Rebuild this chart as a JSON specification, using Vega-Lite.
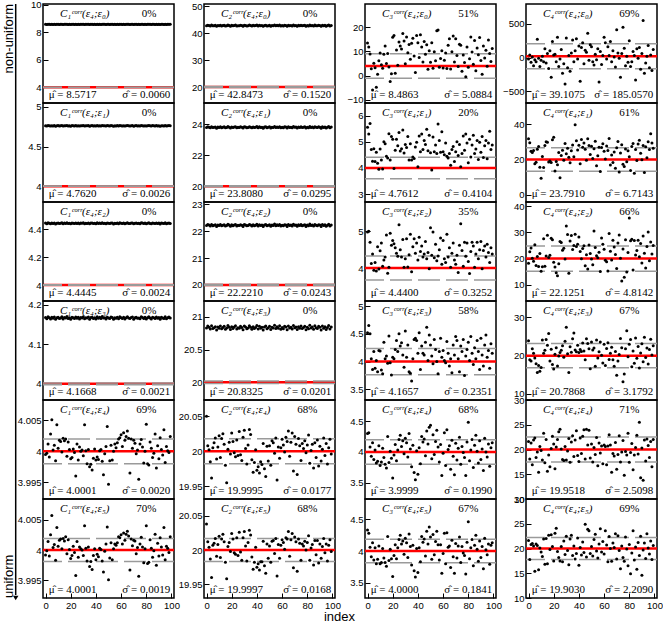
{"$schema":"https://vega.github.io/schema/vega-lite/v6.json","background":"white","padding":{"left":0,"top":-2,"right":0,"bottom":0},
"config":{"view":{"stroke":"black","strokeWidth":1.5},"font":"Liberation Sans","axis":{"grid":false,"domain":false,"labelFont":"Liberation Sans","labelFontSize":9.5,"labelColor":"black","tickColor":"black","tickSize":-5,"tickWidth":1,"labelPadding":7,"labelFlush":false,"labelOverlap":false,"title":null,"format":".6~g"},"axisY":{"tickCount":3},"scale":{"zero":false}},
"bounds":"flush","spacing":23,
"hconcat":[
{"width":20,"height":594,"view":{"stroke":null},"data":{"values":[{}]},"layer":[
{"mark":{"type":"rule","color":"black","strokeWidth":1.5},"encoding":{"x":{"datum":0.785,"type":"quantitative","scale":{"domain":[0,1]},"axis":null},"y":{"datum":1,"type":"quantitative","scale":{"domain":[0,1]},"axis":null},"y2":{"datum":0.005}}},
{"mark":{"type":"point","shape":"triangle-down","filled":true,"color":"black","size":30,"opacity":1},"encoding":{"x":{"datum":0.785,"type":"quantitative"},"y":{"datum":0,"type":"quantitative"}}},
{"mark":{"type":"text","angle":270,"align":"right","baseline":"middle","fontSize":13,"font":"Liberation Sans"},"encoding":{"x":{"datum":0.45,"type":"quantitative"},"y":{"datum":1,"type":"quantitative"},"text":{"value":"non-uniform"}}},
{"mark":{"type":"text","angle":270,"align":"left","baseline":"middle","fontSize":13,"font":"Liberation Sans"},"encoding":{"x":{"datum":0.45,"type":"quantitative"},"y":{"datum":0,"type":"quantitative"},"text":{"value":"uniform"}}}
]},
{"data":{"values":[
{"p":1,"i":0,"v":8.575},{"p":1,"i":1,"v":8.567},{"p":1,"i":2,"v":8.58},{"p":1,"i":3,"v":8.573},{"p":1,"i":4,"v":8.565},{"p":1,"i":5,"v":8.576},{"p":1,"i":6,"v":8.57},{"p":1,"i":7,"v":8.578},{"p":1,"i":8,"v":8.563},{"p":1,"i":9,"v":8.574},
{"p":1,"i":10,"v":8.577},{"p":1,"i":11,"v":8.569},{"p":1,"i":12,"v":8.572},{"p":1,"i":13,"v":8.579},{"p":1,"i":14,"v":8.566},{"p":1,"i":15,"v":8.575},{"p":1,"i":16,"v":8.571},{"p":1,"i":17,"v":8.581},{"p":1,"i":18,"v":8.568},{"p":1,"i":19,"v":8.574},
{"p":1,"i":20,"v":8.564},{"p":1,"i":21,"v":8.577},{"p":1,"i":22,"v":8.573},{"p":1,"i":23,"v":8.569},{"p":1,"i":24,"v":8.578},{"p":1,"i":25,"v":8.57},{"p":1,"i":26,"v":8.576},{"p":1,"i":27,"v":8.565},{"p":1,"i":28,"v":8.575},{"p":1,"i":29,"v":8.572},
{"p":1,"i":30,"v":8.58},{"p":1,"i":31,"v":8.567},{"p":1,"i":32,"v":8.574},{"p":1,"i":33,"v":8.571},{"p":1,"i":34,"v":8.578},{"p":1,"i":35,"v":8.564},{"p":1,"i":36,"v":8.575},{"p":1,"i":37,"v":8.577},{"p":1,"i":38,"v":8.568},{"p":1,"i":39,"v":8.573},
{"p":1,"i":40,"v":8.566},{"p":1,"i":41,"v":8.579},{"p":1,"i":42,"v":8.57},{"p":1,"i":43,"v":8.576},{"p":1,"i":44,"v":8.569},{"p":1,"i":45,"v":8.581},{"p":1,"i":46,"v":8.571},{"p":1,"i":47,"v":8.574},{"p":1,"i":48,"v":8.565},{"p":1,"i":49,"v":8.577},
{"p":1,"i":50,"v":8.572},{"p":1,"i":51,"v":8.568},{"p":1,"i":52,"v":8.578},{"p":1,"i":53,"v":8.575},{"p":1,"i":54,"v":8.563},{"p":1,"i":55,"v":8.574},{"p":1,"i":56,"v":8.57},{"p":1,"i":57,"v":8.577},{"p":1,"i":58,"v":8.567},{"p":1,"i":59,"v":8.58},
{"p":1,"i":60,"v":8.573},{"p":1,"i":61,"v":8.569},{"p":1,"i":62,"v":8.576},{"p":1,"i":63,"v":8.566},{"p":1,"i":64,"v":8.574},{"p":1,"i":65,"v":8.579},{"p":1,"i":66,"v":8.571},{"p":1,"i":67,"v":8.568},{"p":1,"i":68,"v":8.575},{"p":1,"i":69,"v":8.578},
{"p":1,"i":70,"v":8.564},{"p":1,"i":71,"v":8.573},{"p":1,"i":72,"v":8.577},{"p":1,"i":73,"v":8.57},{"p":1,"i":74,"v":8.572},{"p":1,"i":75,"v":8.567},{"p":1,"i":76,"v":8.579},{"p":1,"i":77,"v":8.575},{"p":1,"i":78,"v":8.569},{"p":1,"i":79,"v":8.576},
{"p":1,"i":80,"v":8.565},{"p":1,"i":81,"v":8.574},{"p":1,"i":82,"v":8.58},{"p":1,"i":83,"v":8.571},{"p":1,"i":84,"v":8.566},{"p":1,"i":85,"v":8.577},{"p":1,"i":86,"v":8.573},{"p":1,"i":87,"v":8.568},{"p":1,"i":88,"v":8.578},{"p":1,"i":89,"v":8.57},
{"p":1,"i":90,"v":8.575},{"p":1,"i":91,"v":8.563},{"p":1,"i":92,"v":8.576},{"p":1,"i":93,"v":8.572},{"p":1,"i":94,"v":8.569},{"p":1,"i":95,"v":8.579},{"p":1,"i":96,"v":8.567},{"p":1,"i":97,"v":8.574},{"p":1,"i":98,"v":8.578},{"p":1,"i":99,"v":8.571},
{"p":2,"i":0,"v":42.82},{"p":2,"i":1,"v":43.03},{"p":2,"i":2,"v":42.91},{"p":2,"i":3,"v":42.7},{"p":2,"i":4,"v":43.06},{"p":2,"i":5,"v":42.76},{"p":2,"i":6,"v":42.85},{"p":2,"i":7,"v":42.97},{"p":2,"i":8,"v":42.58},{"p":2,"i":9,"v":42.94},
{"p":2,"i":10,"v":42.79},{"p":2,"i":11,"v":43.03},{"p":2,"i":12,"v":42.73},{"p":2,"i":13,"v":42.88},{"p":2,"i":14,"v":43},{"p":2,"i":15,"v":42.67},{"p":2,"i":16,"v":42.82},{"p":2,"i":17,"v":43.09},{"p":2,"i":18,"v":42.91},{"p":2,"i":19,"v":42.64},
{"p":2,"i":20,"v":42.97},{"p":2,"i":21,"v":42.76},{"p":2,"i":22,"v":42.94},{"p":2,"i":23,"v":43.06},{"p":2,"i":24,"v":42.7},{"p":2,"i":25,"v":42.85},{"p":2,"i":26,"v":42.79},{"p":2,"i":27,"v":43},{"p":2,"i":28,"v":42.88},{"p":2,"i":29,"v":42.61},
{"p":2,"i":30,"v":43.03},{"p":2,"i":31,"v":42.94},{"p":2,"i":32,"v":42.73},{"p":2,"i":33,"v":42.82},{"p":2,"i":34,"v":43.06},{"p":2,"i":35,"v":42.91},{"p":2,"i":36,"v":42.67},{"p":2,"i":37,"v":42.97},{"p":2,"i":38,"v":42.76},{"p":2,"i":39,"v":42.88},
{"p":2,"i":40,"v":43.09},{"p":2,"i":41,"v":42.7},{"p":2,"i":42,"v":43},{"p":2,"i":43,"v":42.79},{"p":2,"i":44,"v":42.91},{"p":2,"i":45,"v":42.58},{"p":2,"i":46,"v":42.94},{"p":2,"i":47,"v":43.03},{"p":2,"i":48,"v":42.73},{"p":2,"i":49,"v":42.85},
{"p":2,"i":50,"v":43},{"p":2,"i":51,"v":42.64},{"p":2,"i":52,"v":42.91},{"p":2,"i":53,"v":42.82},{"p":2,"i":54,"v":43.12},{"p":2,"i":55,"v":42.76},{"p":2,"i":56,"v":42.97},{"p":2,"i":57,"v":42.79},{"p":2,"i":58,"v":43.06},{"p":2,"i":59,"v":42.67},
{"p":2,"i":60,"v":42.88},{"p":2,"i":61,"v":42.73},{"p":2,"i":62,"v":43},{"p":2,"i":63,"v":42.94},{"p":2,"i":64,"v":42.61},{"p":2,"i":65,"v":43.03},{"p":2,"i":66,"v":42.82},{"p":2,"i":67,"v":42.91},{"p":2,"i":68,"v":42.7},{"p":2,"i":69,"v":43.09},
{"p":2,"i":70,"v":42.85},{"p":2,"i":71,"v":42.94},{"p":2,"i":72,"v":42.64},{"p":2,"i":73,"v":42.97},{"p":2,"i":74,"v":42.79},{"p":2,"i":75,"v":43.03},{"p":2,"i":76,"v":42.76},{"p":2,"i":77,"v":42.88},{"p":2,"i":78,"v":43},{"p":2,"i":79,"v":42.61},
{"p":2,"i":80,"v":42.91},{"p":2,"i":81,"v":42.73},{"p":2,"i":82,"v":43.12},{"p":2,"i":83,"v":42.82},{"p":2,"i":84,"v":42.94},{"p":2,"i":85,"v":42.67},{"p":2,"i":86,"v":43.06},{"p":2,"i":87,"v":42.85},{"p":2,"i":88,"v":42.76},{"p":2,"i":89,"v":43},
{"p":2,"i":90,"v":42.91},{"p":2,"i":91,"v":42.58},{"p":2,"i":92,"v":43.03},{"p":2,"i":93,"v":42.79},{"p":2,"i":94,"v":42.97},{"p":2,"i":95,"v":42.64},{"p":2,"i":96,"v":42.88},{"p":2,"i":97,"v":43.09},{"p":2,"i":98,"v":42.7},{"p":2,"i":99,"v":42.94},
{"p":3,"i":0,"v":13.5},{"p":3,"i":1,"v":11.8},{"p":3,"i":2,"v":8.9},{"p":3,"i":3,"v":2.8},{"p":3,"i":4,"v":-5.9},{"p":3,"i":5,"v":5.1},{"p":3,"i":6,"v":3.3},{"p":3,"i":7,"v":-4.8},{"p":3,"i":8,"v":0.6},{"p":3,"i":9,"v":6.2},
{"p":3,"i":10,"v":9.4},{"p":3,"i":11,"v":4.5},{"p":3,"i":12,"v":3.1},{"p":3,"i":13,"v":8.8},{"p":3,"i":14,"v":12.3},{"p":3,"i":15,"v":5},{"p":3,"i":16,"v":9.2},{"p":3,"i":17,"v":3.6},{"p":3,"i":18,"v":-2.4},{"p":3,"i":19,"v":0.8},
{"p":3,"i":20,"v":15.9},{"p":3,"i":21,"v":16.6},{"p":3,"i":22,"v":1},{"p":3,"i":23,"v":10.6},{"p":3,"i":24,"v":4.3},{"p":3,"i":25,"v":13.9},{"p":3,"i":26,"v":12.2},{"p":3,"i":27,"v":11},{"p":3,"i":28,"v":17.4},{"p":3,"i":29,"v":14.3},
{"p":3,"i":30,"v":4.9},{"p":3,"i":31,"v":16},{"p":3,"i":32,"v":9.5},{"p":3,"i":33,"v":12.9},{"p":3,"i":34,"v":6.8},{"p":3,"i":35,"v":13.4},{"p":3,"i":36,"v":15.5},{"p":3,"i":37,"v":8.1},{"p":3,"i":38,"v":1.3},{"p":3,"i":39,"v":16.6},
{"p":3,"i":40,"v":13.6},{"p":3,"i":41,"v":7.5},{"p":3,"i":42,"v":16.9},{"p":3,"i":43,"v":11.8},{"p":3,"i":44,"v":5.6},{"p":3,"i":45,"v":14.1},{"p":3,"i":46,"v":8.8},{"p":3,"i":47,"v":12.8},{"p":3,"i":48,"v":2.6},{"p":3,"i":49,"v":10.3},
{"p":3,"i":50,"v":5.5},{"p":3,"i":51,"v":13.6},{"p":3,"i":52,"v":3.1},{"p":3,"i":53,"v":9.9},{"p":3,"i":54,"v":6.2},{"p":3,"i":55,"v":18.6},{"p":3,"i":56,"v":18.9},{"p":3,"i":57,"v":3.5},{"p":3,"i":58,"v":7.1},{"p":3,"i":59,"v":10.3},
{"p":3,"i":60,"v":3.2},{"p":3,"i":61,"v":6.4},{"p":3,"i":62,"v":9.4},{"p":3,"i":63,"v":3},{"p":3,"i":64,"v":12.6},{"p":3,"i":65,"v":15.2},{"p":3,"i":66,"v":2.7},{"p":3,"i":67,"v":9.9},{"p":3,"i":68,"v":16.4},{"p":3,"i":69,"v":5.6},
{"p":3,"i":70,"v":15.2},{"p":3,"i":71,"v":8.3},{"p":3,"i":72,"v":3.8},{"p":3,"i":73,"v":13},{"p":3,"i":74,"v":12.6},{"p":3,"i":75,"v":1.8},{"p":3,"i":76,"v":8.5},{"p":3,"i":77,"v":5.4},{"p":3,"i":78,"v":-0.5},{"p":3,"i":79,"v":11.8},
{"p":3,"i":80,"v":3.5},{"p":3,"i":81,"v":7},{"p":3,"i":82,"v":16},{"p":3,"i":83,"v":9.8},{"p":3,"i":84,"v":4.7},{"p":3,"i":85,"v":14.5},{"p":3,"i":86,"v":2},{"p":3,"i":87,"v":11.4},{"p":3,"i":88,"v":8.6},{"p":3,"i":89,"v":15.8},
{"p":3,"i":90,"v":6.3},{"p":3,"i":91,"v":0.6},{"p":3,"i":92,"v":12.2},{"p":3,"i":93,"v":7.3},{"p":3,"i":94,"v":10.5},{"p":3,"i":95,"v":3.9},{"p":3,"i":96,"v":14.7},{"p":3,"i":97,"v":9.1},{"p":3,"i":98,"v":5.8},{"p":3,"i":99,"v":11.2},
{"p":4,"i":0,"v":-20},{"p":4,"i":1,"v":40},{"p":4,"i":2,"v":-70},{"p":4,"i":3,"v":10},{"p":4,"i":4,"v":-120},{"p":4,"i":5,"v":-30},{"p":4,"i":6,"v":-60},{"p":4,"i":7,"v":270},{"p":4,"i":8,"v":-10},{"p":4,"i":9,"v":-130},
{"p":4,"i":10,"v":-40},{"p":4,"i":11,"v":20},{"p":4,"i":12,"v":-60},{"p":4,"i":13,"v":130},{"p":4,"i":14,"v":-80},{"p":4,"i":15,"v":60},{"p":4,"i":16,"v":-160},{"p":4,"i":17,"v":100},{"p":4,"i":18,"v":-290},{"p":4,"i":19,"v":240},
{"p":4,"i":20,"v":40},{"p":4,"i":21,"v":50},{"p":4,"i":22,"v":-60},{"p":4,"i":23,"v":300},{"p":4,"i":24,"v":-130},{"p":4,"i":25,"v":-20},{"p":4,"i":26,"v":120},{"p":4,"i":27,"v":-230},{"p":4,"i":28,"v":-90},{"p":4,"i":29,"v":-390},
{"p":4,"i":30,"v":290},{"p":4,"i":31,"v":-150},{"p":4,"i":32,"v":30},{"p":4,"i":33,"v":-200},{"p":4,"i":34,"v":70},{"p":4,"i":35,"v":260},{"p":4,"i":36,"v":-60},{"p":4,"i":37,"v":100},{"p":4,"i":38,"v":280},{"p":4,"i":39,"v":-20},
{"p":4,"i":40,"v":170},{"p":4,"i":41,"v":-350},{"p":4,"i":42,"v":150},{"p":4,"i":43,"v":220},{"p":4,"i":44,"v":-90},{"p":4,"i":45,"v":110},{"p":4,"i":46,"v":80},{"p":4,"i":47,"v":360},{"p":4,"i":48,"v":-40},{"p":4,"i":49,"v":190},
{"p":4,"i":50,"v":160},{"p":4,"i":51,"v":-60},{"p":4,"i":52,"v":-110},{"p":4,"i":53,"v":50},{"p":4,"i":54,"v":-30},{"p":4,"i":55,"v":130},{"p":4,"i":56,"v":-360},{"p":4,"i":57,"v":90},{"p":4,"i":58,"v":-100},{"p":4,"i":59,"v":30},
{"p":4,"i":60,"v":300},{"p":4,"i":61,"v":220},{"p":4,"i":62,"v":-20},{"p":4,"i":63,"v":160},{"p":4,"i":64,"v":30},{"p":4,"i":65,"v":240},{"p":4,"i":66,"v":-60},{"p":4,"i":67,"v":100},{"p":4,"i":68,"v":10},{"p":4,"i":69,"v":-140},
{"p":4,"i":70,"v":410},{"p":4,"i":71,"v":70},{"p":4,"i":72,"v":-10},{"p":4,"i":73,"v":-290},{"p":4,"i":74,"v":60},{"p":4,"i":75,"v":450},{"p":4,"i":76,"v":140},{"p":4,"i":77,"v":-120},{"p":4,"i":78,"v":20},{"p":4,"i":79,"v":-70},
{"p":4,"i":80,"v":250},{"p":4,"i":81,"v":-130},{"p":4,"i":82,"v":-60},{"p":4,"i":83,"v":90},{"p":4,"i":84,"v":30},{"p":4,"i":85,"v":-330},{"p":4,"i":86,"v":130},{"p":4,"i":87,"v":-10},{"p":4,"i":88,"v":150},{"p":4,"i":89,"v":-170},
{"p":4,"i":90,"v":60},{"p":4,"i":91,"v":550},{"p":4,"i":92,"v":-230},{"p":4,"i":93,"v":-80},{"p":4,"i":94,"v":20},{"p":4,"i":95,"v":180},{"p":4,"i":96,"v":-150},{"p":4,"i":97,"v":40},{"p":4,"i":98,"v":-190},{"p":4,"i":99,"v":120},
{"p":5,"i":0,"v":4.7635},{"p":5,"i":1,"v":4.7595},{"p":5,"i":2,"v":4.766},{"p":5,"i":3,"v":4.7625},{"p":5,"i":4,"v":4.7585},{"p":5,"i":5,"v":4.764},{"p":5,"i":6,"v":4.761},{"p":5,"i":7,"v":4.765},{"p":5,"i":8,"v":4.7575},{"p":5,"i":9,"v":4.763},
{"p":5,"i":10,"v":4.7645},{"p":5,"i":11,"v":4.7605},{"p":5,"i":12,"v":4.762},{"p":5,"i":13,"v":4.7655},{"p":5,"i":14,"v":4.759},{"p":5,"i":15,"v":4.7635},{"p":5,"i":16,"v":4.7615},{"p":5,"i":17,"v":4.7665},{"p":5,"i":18,"v":4.76},{"p":5,"i":19,"v":4.763},
{"p":5,"i":20,"v":4.758},{"p":5,"i":21,"v":4.7645},{"p":5,"i":22,"v":4.7625},{"p":5,"i":23,"v":4.7605},{"p":5,"i":24,"v":4.765},{"p":5,"i":25,"v":4.761},{"p":5,"i":26,"v":4.764},{"p":5,"i":27,"v":4.7585},{"p":5,"i":28,"v":4.7635},{"p":5,"i":29,"v":4.762},
{"p":5,"i":30,"v":4.766},{"p":5,"i":31,"v":4.7595},{"p":5,"i":32,"v":4.763},{"p":5,"i":33,"v":4.7615},{"p":5,"i":34,"v":4.765},{"p":5,"i":35,"v":4.758},{"p":5,"i":36,"v":4.7635},{"p":5,"i":37,"v":4.7645},{"p":5,"i":38,"v":4.76},{"p":5,"i":39,"v":4.7625},
{"p":5,"i":40,"v":4.759},{"p":5,"i":41,"v":4.7655},{"p":5,"i":42,"v":4.761},{"p":5,"i":43,"v":4.764},{"p":5,"i":44,"v":4.7605},{"p":5,"i":45,"v":4.7665},{"p":5,"i":46,"v":4.7615},{"p":5,"i":47,"v":4.763},{"p":5,"i":48,"v":4.7585},{"p":5,"i":49,"v":4.7645},
{"p":5,"i":50,"v":4.762},{"p":5,"i":51,"v":4.76},{"p":5,"i":52,"v":4.765},{"p":5,"i":53,"v":4.7635},{"p":5,"i":54,"v":4.7575},{"p":5,"i":55,"v":4.763},{"p":5,"i":56,"v":4.761},{"p":5,"i":57,"v":4.7645},{"p":5,"i":58,"v":4.7595},{"p":5,"i":59,"v":4.766},
{"p":5,"i":60,"v":4.7625},{"p":5,"i":61,"v":4.7605},{"p":5,"i":62,"v":4.764},{"p":5,"i":63,"v":4.759},{"p":5,"i":64,"v":4.763},{"p":5,"i":65,"v":4.7655},{"p":5,"i":66,"v":4.7615},{"p":5,"i":67,"v":4.76},{"p":5,"i":68,"v":4.7635},{"p":5,"i":69,"v":4.765},
{"p":5,"i":70,"v":4.758},{"p":5,"i":71,"v":4.7625},{"p":5,"i":72,"v":4.7645},{"p":5,"i":73,"v":4.761},{"p":5,"i":74,"v":4.762},{"p":5,"i":75,"v":4.7595},{"p":5,"i":76,"v":4.7655},{"p":5,"i":77,"v":4.7635},{"p":5,"i":78,"v":4.7605},{"p":5,"i":79,"v":4.764},
{"p":5,"i":80,"v":4.7585},{"p":5,"i":81,"v":4.763},{"p":5,"i":82,"v":4.766},{"p":5,"i":83,"v":4.7615},{"p":5,"i":84,"v":4.759},{"p":5,"i":85,"v":4.7645},{"p":5,"i":86,"v":4.7625},{"p":5,"i":87,"v":4.76},{"p":5,"i":88,"v":4.765},{"p":5,"i":89,"v":4.761},
{"p":5,"i":90,"v":4.7635},{"p":5,"i":91,"v":4.7575},{"p":5,"i":92,"v":4.764},{"p":5,"i":93,"v":4.762},{"p":5,"i":94,"v":4.7605},{"p":5,"i":95,"v":4.7655},{"p":5,"i":96,"v":4.7595},{"p":5,"i":97,"v":4.763},{"p":5,"i":98,"v":4.765},{"p":5,"i":99,"v":4.7615},
{"p":6,"i":0,"v":23.802},{"p":6,"i":1,"v":23.844},{"p":6,"i":2,"v":23.82},{"p":6,"i":3,"v":23.778},{"p":6,"i":4,"v":23.85},{"p":6,"i":5,"v":23.79},{"p":6,"i":6,"v":23.808},{"p":6,"i":7,"v":23.832},{"p":6,"i":8,"v":23.754},{"p":6,"i":9,"v":23.826},
{"p":6,"i":10,"v":23.796},{"p":6,"i":11,"v":23.844},{"p":6,"i":12,"v":23.784},{"p":6,"i":13,"v":23.814},{"p":6,"i":14,"v":23.838},{"p":6,"i":15,"v":23.772},{"p":6,"i":16,"v":23.802},{"p":6,"i":17,"v":23.856},{"p":6,"i":18,"v":23.82},{"p":6,"i":19,"v":23.766},
{"p":6,"i":20,"v":23.832},{"p":6,"i":21,"v":23.79},{"p":6,"i":22,"v":23.826},{"p":6,"i":23,"v":23.85},{"p":6,"i":24,"v":23.778},{"p":6,"i":25,"v":23.808},{"p":6,"i":26,"v":23.796},{"p":6,"i":27,"v":23.838},{"p":6,"i":28,"v":23.814},{"p":6,"i":29,"v":23.76},
{"p":6,"i":30,"v":23.844},{"p":6,"i":31,"v":23.826},{"p":6,"i":32,"v":23.784},{"p":6,"i":33,"v":23.802},{"p":6,"i":34,"v":23.85},{"p":6,"i":35,"v":23.82},{"p":6,"i":36,"v":23.772},{"p":6,"i":37,"v":23.832},{"p":6,"i":38,"v":23.79},{"p":6,"i":39,"v":23.814},
{"p":6,"i":40,"v":23.856},{"p":6,"i":41,"v":23.778},{"p":6,"i":42,"v":23.838},{"p":6,"i":43,"v":23.796},{"p":6,"i":44,"v":23.82},{"p":6,"i":45,"v":23.754},{"p":6,"i":46,"v":23.826},{"p":6,"i":47,"v":23.844},{"p":6,"i":48,"v":23.784},{"p":6,"i":49,"v":23.808},
{"p":6,"i":50,"v":23.838},{"p":6,"i":51,"v":23.766},{"p":6,"i":52,"v":23.82},{"p":6,"i":53,"v":23.802},{"p":6,"i":54,"v":23.862},{"p":6,"i":55,"v":23.79},{"p":6,"i":56,"v":23.832},{"p":6,"i":57,"v":23.796},{"p":6,"i":58,"v":23.85},{"p":6,"i":59,"v":23.772},
{"p":6,"i":60,"v":23.814},{"p":6,"i":61,"v":23.784},{"p":6,"i":62,"v":23.838},{"p":6,"i":63,"v":23.826},{"p":6,"i":64,"v":23.76},{"p":6,"i":65,"v":23.844},{"p":6,"i":66,"v":23.802},{"p":6,"i":67,"v":23.82},{"p":6,"i":68,"v":23.778},{"p":6,"i":69,"v":23.856},
{"p":6,"i":70,"v":23.808},{"p":6,"i":71,"v":23.826},{"p":6,"i":72,"v":23.766},{"p":6,"i":73,"v":23.832},{"p":6,"i":74,"v":23.796},{"p":6,"i":75,"v":23.844},{"p":6,"i":76,"v":23.79},{"p":6,"i":77,"v":23.814},{"p":6,"i":78,"v":23.838},{"p":6,"i":79,"v":23.76},
{"p":6,"i":80,"v":23.82},{"p":6,"i":81,"v":23.784},{"p":6,"i":82,"v":23.862},{"p":6,"i":83,"v":23.802},{"p":6,"i":84,"v":23.826},{"p":6,"i":85,"v":23.772},{"p":6,"i":86,"v":23.85},{"p":6,"i":87,"v":23.808},{"p":6,"i":88,"v":23.79},{"p":6,"i":89,"v":23.838},
{"p":6,"i":90,"v":23.82},{"p":6,"i":91,"v":23.754},{"p":6,"i":92,"v":23.844},{"p":6,"i":93,"v":23.796},{"p":6,"i":94,"v":23.832},{"p":6,"i":95,"v":23.766},{"p":6,"i":96,"v":23.814},{"p":6,"i":97,"v":23.856},{"p":6,"i":98,"v":23.778},{"p":6,"i":99,"v":23.826},
{"p":7,"i":0,"v":5.55},{"p":7,"i":1,"v":5.3},{"p":7,"i":2,"v":5.7},{"p":7,"i":3,"v":4.7},{"p":7,"i":4,"v":4.26},{"p":7,"i":5,"v":4.73},{"p":7,"i":6,"v":4.25},{"p":7,"i":7,"v":4.6},{"p":7,"i":8,"v":4.18},{"p":7,"i":9,"v":3.95},
{"p":7,"i":10,"v":4.72},{"p":7,"i":11,"v":4.3},{"p":7,"i":12,"v":3.96},{"p":7,"i":13,"v":5},{"p":7,"i":14,"v":4.92},{"p":7,"i":15,"v":4.45},{"p":7,"i":16,"v":4.38},{"p":7,"i":17,"v":5.31},{"p":7,"i":18,"v":4.3},{"p":7,"i":19,"v":5.2},
{"p":7,"i":20,"v":5.1},{"p":7,"i":21,"v":3.98},{"p":7,"i":22,"v":4.68},{"p":7,"i":23,"v":5.1},{"p":7,"i":24,"v":4.85},{"p":7,"i":25,"v":5.35},{"p":7,"i":26,"v":4.65},{"p":7,"i":27,"v":4.73},{"p":7,"i":28,"v":5.45},{"p":7,"i":29,"v":4.57},
{"p":7,"i":30,"v":4.9},{"p":7,"i":31,"v":4.78},{"p":7,"i":32,"v":5.2},{"p":7,"i":33,"v":4.3},{"p":7,"i":34,"v":4.92},{"p":7,"i":35,"v":4.3},{"p":7,"i":36,"v":4.42},{"p":7,"i":37,"v":4.36},{"p":7,"i":38,"v":4.8},{"p":7,"i":39,"v":4.98},
{"p":7,"i":40,"v":4.05},{"p":7,"i":41,"v":5.22},{"p":7,"i":42,"v":4.62},{"p":7,"i":43,"v":5.3},{"p":7,"i":44,"v":4.7},{"p":7,"i":45,"v":5.05},{"p":7,"i":46,"v":4.9},{"p":7,"i":47,"v":5.48},{"p":7,"i":48,"v":4.66},{"p":7,"i":49,"v":5.25},
{"p":7,"i":50,"v":4.58},{"p":7,"i":51,"v":3.92},{"p":7,"i":52,"v":5.18},{"p":7,"i":53,"v":4.62},{"p":7,"i":54,"v":4.88},{"p":7,"i":55,"v":4.55},{"p":7,"i":56,"v":5.68},{"p":7,"i":57,"v":5.05},{"p":7,"i":58,"v":4.6},{"p":7,"i":59,"v":5.38},
{"p":7,"i":60,"v":4.62},{"p":7,"i":61,"v":4.5},{"p":7,"i":62,"v":4.95},{"p":7,"i":63,"v":4.45},{"p":7,"i":64,"v":4.38},{"p":7,"i":65,"v":4.55},{"p":7,"i":66,"v":4.1},{"p":7,"i":67,"v":4.7},{"p":7,"i":68,"v":4.82},{"p":7,"i":69,"v":4.25},
{"p":7,"i":70,"v":4.62},{"p":7,"i":71,"v":5},{"p":7,"i":72,"v":4.48},{"p":7,"i":73,"v":4.9},{"p":7,"i":74,"v":4.05},{"p":7,"i":75,"v":4.55},{"p":7,"i":76,"v":5.22},{"p":7,"i":77,"v":4.68},{"p":7,"i":78,"v":5.3},{"p":7,"i":79,"v":4.95},
{"p":7,"i":80,"v":4.2},{"p":7,"i":81,"v":5.1},{"p":7,"i":82,"v":4.42},{"p":7,"i":83,"v":4.88},{"p":7,"i":84,"v":5.25},{"p":7,"i":85,"v":4.55},{"p":7,"i":86,"v":4.72},{"p":7,"i":87,"v":5.05},{"p":7,"i":88,"v":4.32},{"p":7,"i":89,"v":4.98},
{"p":7,"i":90,"v":4.6},{"p":7,"i":91,"v":5.2},{"p":7,"i":92,"v":4.4},{"p":7,"i":93,"v":4.85},{"p":7,"i":94,"v":5.05},{"p":7,"i":95,"v":4.35},{"p":7,"i":96,"v":4.95},{"p":7,"i":97,"v":5.4},{"p":7,"i":98,"v":4.7},{"p":7,"i":99,"v":4.88},
{"p":8,"i":0,"v":31.8},{"p":8,"i":1,"v":29.5},{"p":8,"i":2,"v":24.6},{"p":8,"i":3,"v":23.9},{"p":8,"i":4,"v":25.1},{"p":8,"i":5,"v":17.6},{"p":8,"i":6,"v":18.4},{"p":8,"i":7,"v":25.8},{"p":8,"i":8,"v":27.3},{"p":8,"i":9,"v":15.6},
{"p":8,"i":10,"v":9.3},{"p":8,"i":11,"v":21.7},{"p":8,"i":12,"v":15.4},{"p":8,"i":13,"v":27.9},{"p":8,"i":14,"v":30.1},{"p":8,"i":15,"v":29.8},{"p":8,"i":16,"v":18.6},{"p":8,"i":17,"v":19.1},{"p":8,"i":18,"v":18.2},{"p":8,"i":19,"v":31.2},
{"p":8,"i":20,"v":32.6},{"p":8,"i":21,"v":13.4},{"p":8,"i":22,"v":18.8},{"p":8,"i":23,"v":17},{"p":8,"i":24,"v":24},{"p":8,"i":25,"v":9.6},{"p":8,"i":26,"v":22.3},{"p":8,"i":27,"v":25.2},{"p":8,"i":28,"v":19.5},{"p":8,"i":29,"v":29},
{"p":8,"i":30,"v":23.3},{"p":8,"i":31,"v":26.4},{"p":8,"i":32,"v":21.2},{"p":8,"i":33,"v":18.1},{"p":8,"i":34,"v":24.9},{"p":8,"i":35,"v":28.2},{"p":8,"i":36,"v":21.5},{"p":8,"i":37,"v":39.8},{"p":8,"i":38,"v":30.7},{"p":8,"i":39,"v":25.4},
{"p":8,"i":40,"v":28.1},{"p":8,"i":41,"v":17.6},{"p":8,"i":42,"v":31.3},{"p":8,"i":43,"v":26.9},{"p":8,"i":44,"v":29.4},{"p":8,"i":45,"v":25.8},{"p":8,"i":46,"v":19.6},{"p":8,"i":47,"v":31.7},{"p":8,"i":48,"v":28},{"p":8,"i":49,"v":22.8},
{"p":8,"i":50,"v":27.5},{"p":8,"i":51,"v":20.6},{"p":8,"i":52,"v":26.1},{"p":8,"i":53,"v":30.3},{"p":8,"i":54,"v":16.4},{"p":8,"i":55,"v":22.1},{"p":8,"i":56,"v":27},{"p":8,"i":57,"v":13.1},{"p":8,"i":58,"v":26.8},{"p":8,"i":59,"v":28.9},
{"p":8,"i":60,"v":24.6},{"p":8,"i":61,"v":20.3},{"p":8,"i":62,"v":27.7},{"p":8,"i":63,"v":25.1},{"p":8,"i":64,"v":31.9},{"p":8,"i":65,"v":16.9},{"p":8,"i":66,"v":22.5},{"p":8,"i":67,"v":18.3},{"p":8,"i":68,"v":24.3},{"p":8,"i":69,"v":15},
{"p":8,"i":70,"v":26.6},{"p":8,"i":71,"v":30.2},{"p":8,"i":72,"v":12.8},{"p":8,"i":73,"v":23.7},{"p":8,"i":74,"v":28.4},{"p":8,"i":75,"v":17.2},{"p":8,"i":76,"v":16},{"p":8,"i":77,"v":26},{"p":8,"i":78,"v":18.7},{"p":8,"i":79,"v":24.9},
{"p":8,"i":80,"v":21.6},{"p":8,"i":81,"v":13.7},{"p":8,"i":82,"v":27.3},{"p":8,"i":83,"v":29.1},{"p":8,"i":84,"v":12.1},{"p":8,"i":85,"v":25.6},{"p":8,"i":86,"v":19.4},{"p":8,"i":87,"v":28.8},{"p":8,"i":88,"v":30.9},{"p":8,"i":89,"v":23.5},
{"p":8,"i":90,"v":19.8},{"p":8,"i":91,"v":28},{"p":8,"i":92,"v":12.6},{"p":8,"i":93,"v":27.2},{"p":8,"i":94,"v":21},{"p":8,"i":95,"v":30},{"p":8,"i":96,"v":25.7},{"p":8,"i":97,"v":34.6},{"p":8,"i":98,"v":29.3},{"p":8,"i":99,"v":26.4},
{"p":9,"i":0,"v":4.446},{"p":9,"i":1,"v":4.442},{"p":9,"i":2,"v":4.4485},{"p":9,"i":3,"v":4.445},{"p":9,"i":4,"v":4.441},{"p":9,"i":5,"v":4.4465},{"p":9,"i":6,"v":4.4435},{"p":9,"i":7,"v":4.4475},{"p":9,"i":8,"v":4.44},{"p":9,"i":9,"v":4.4455},
{"p":9,"i":10,"v":4.447},{"p":9,"i":11,"v":4.443},{"p":9,"i":12,"v":4.4445},{"p":9,"i":13,"v":4.448},{"p":9,"i":14,"v":4.4415},{"p":9,"i":15,"v":4.446},{"p":9,"i":16,"v":4.444},{"p":9,"i":17,"v":4.449},{"p":9,"i":18,"v":4.4425},{"p":9,"i":19,"v":4.4455},
{"p":9,"i":20,"v":4.4405},{"p":9,"i":21,"v":4.447},{"p":9,"i":22,"v":4.445},{"p":9,"i":23,"v":4.443},{"p":9,"i":24,"v":4.4475},{"p":9,"i":25,"v":4.4435},{"p":9,"i":26,"v":4.4465},{"p":9,"i":27,"v":4.441},{"p":9,"i":28,"v":4.446},{"p":9,"i":29,"v":4.4445},
{"p":9,"i":30,"v":4.4485},{"p":9,"i":31,"v":4.442},{"p":9,"i":32,"v":4.4455},{"p":9,"i":33,"v":4.444},{"p":9,"i":34,"v":4.4475},{"p":9,"i":35,"v":4.4405},{"p":9,"i":36,"v":4.446},{"p":9,"i":37,"v":4.447},{"p":9,"i":38,"v":4.4425},{"p":9,"i":39,"v":4.445},
{"p":9,"i":40,"v":4.4415},{"p":9,"i":41,"v":4.448},{"p":9,"i":42,"v":4.4435},{"p":9,"i":43,"v":4.4465},{"p":9,"i":44,"v":4.443},{"p":9,"i":45,"v":4.449},{"p":9,"i":46,"v":4.444},{"p":9,"i":47,"v":4.4455},{"p":9,"i":48,"v":4.441},{"p":9,"i":49,"v":4.447},
{"p":9,"i":50,"v":4.4445},{"p":9,"i":51,"v":4.4425},{"p":9,"i":52,"v":4.4475},{"p":9,"i":53,"v":4.446},{"p":9,"i":54,"v":4.44},{"p":9,"i":55,"v":4.4455},{"p":9,"i":56,"v":4.4435},{"p":9,"i":57,"v":4.447},{"p":9,"i":58,"v":4.442},{"p":9,"i":59,"v":4.4485},
{"p":9,"i":60,"v":4.445},{"p":9,"i":61,"v":4.443},{"p":9,"i":62,"v":4.4465},{"p":9,"i":63,"v":4.4415},{"p":9,"i":64,"v":4.4455},{"p":9,"i":65,"v":4.448},{"p":9,"i":66,"v":4.444},{"p":9,"i":67,"v":4.4425},{"p":9,"i":68,"v":4.446},{"p":9,"i":69,"v":4.4475},
{"p":9,"i":70,"v":4.4405},{"p":9,"i":71,"v":4.445},{"p":9,"i":72,"v":4.447},{"p":9,"i":73,"v":4.4435},{"p":9,"i":74,"v":4.4445},{"p":9,"i":75,"v":4.442},{"p":9,"i":76,"v":4.448},{"p":9,"i":77,"v":4.446},{"p":9,"i":78,"v":4.443},{"p":9,"i":79,"v":4.4465},
{"p":9,"i":80,"v":4.441},{"p":9,"i":81,"v":4.4455},{"p":9,"i":82,"v":4.4485},{"p":9,"i":83,"v":4.444},{"p":9,"i":84,"v":4.4415},{"p":9,"i":85,"v":4.447},{"p":9,"i":86,"v":4.445},{"p":9,"i":87,"v":4.4425},{"p":9,"i":88,"v":4.4475},{"p":9,"i":89,"v":4.4435},
{"p":9,"i":90,"v":4.446},{"p":9,"i":91,"v":4.44},{"p":9,"i":92,"v":4.4465},{"p":9,"i":93,"v":4.4445},{"p":9,"i":94,"v":4.443},{"p":9,"i":95,"v":4.448},{"p":9,"i":96,"v":4.442},{"p":9,"i":97,"v":4.4455},{"p":9,"i":98,"v":4.4475},{"p":9,"i":99,"v":4.444},
{"p":10,"i":0,"v":22.216},{"p":10,"i":1,"v":22.251},{"p":10,"i":2,"v":22.231},{"p":10,"i":3,"v":22.196},{"p":10,"i":4,"v":22.256},{"p":10,"i":5,"v":22.206},{"p":10,"i":6,"v":22.221},{"p":10,"i":7,"v":22.241},{"p":10,"i":8,"v":22.176},{"p":10,"i":9,"v":22.236},
{"p":10,"i":10,"v":22.211},{"p":10,"i":11,"v":22.251},{"p":10,"i":12,"v":22.201},{"p":10,"i":13,"v":22.226},{"p":10,"i":14,"v":22.246},{"p":10,"i":15,"v":22.191},{"p":10,"i":16,"v":22.216},{"p":10,"i":17,"v":22.261},{"p":10,"i":18,"v":22.231},{"p":10,"i":19,"v":22.186},
{"p":10,"i":20,"v":22.241},{"p":10,"i":21,"v":22.206},{"p":10,"i":22,"v":22.236},{"p":10,"i":23,"v":22.256},{"p":10,"i":24,"v":22.196},{"p":10,"i":25,"v":22.221},{"p":10,"i":26,"v":22.211},{"p":10,"i":27,"v":22.246},{"p":10,"i":28,"v":22.226},{"p":10,"i":29,"v":22.181},
{"p":10,"i":30,"v":22.251},{"p":10,"i":31,"v":22.236},{"p":10,"i":32,"v":22.201},{"p":10,"i":33,"v":22.216},{"p":10,"i":34,"v":22.256},{"p":10,"i":35,"v":22.231},{"p":10,"i":36,"v":22.191},{"p":10,"i":37,"v":22.241},{"p":10,"i":38,"v":22.206},{"p":10,"i":39,"v":22.226},
{"p":10,"i":40,"v":22.261},{"p":10,"i":41,"v":22.196},{"p":10,"i":42,"v":22.246},{"p":10,"i":43,"v":22.211},{"p":10,"i":44,"v":22.231},{"p":10,"i":45,"v":22.176},{"p":10,"i":46,"v":22.236},{"p":10,"i":47,"v":22.251},{"p":10,"i":48,"v":22.201},{"p":10,"i":49,"v":22.221},
{"p":10,"i":50,"v":22.246},{"p":10,"i":51,"v":22.186},{"p":10,"i":52,"v":22.231},{"p":10,"i":53,"v":22.216},{"p":10,"i":54,"v":22.266},{"p":10,"i":55,"v":22.206},{"p":10,"i":56,"v":22.241},{"p":10,"i":57,"v":22.211},{"p":10,"i":58,"v":22.256},{"p":10,"i":59,"v":22.191},
{"p":10,"i":60,"v":22.226},{"p":10,"i":61,"v":22.201},{"p":10,"i":62,"v":22.246},{"p":10,"i":63,"v":22.236},{"p":10,"i":64,"v":22.181},{"p":10,"i":65,"v":22.251},{"p":10,"i":66,"v":22.216},{"p":10,"i":67,"v":22.231},{"p":10,"i":68,"v":22.196},{"p":10,"i":69,"v":22.261},
{"p":10,"i":70,"v":22.221},{"p":10,"i":71,"v":22.236},{"p":10,"i":72,"v":22.186},{"p":10,"i":73,"v":22.241},{"p":10,"i":74,"v":22.211},{"p":10,"i":75,"v":22.251},{"p":10,"i":76,"v":22.206},{"p":10,"i":77,"v":22.226},{"p":10,"i":78,"v":22.246},{"p":10,"i":79,"v":22.181},
{"p":10,"i":80,"v":22.231},{"p":10,"i":81,"v":22.201},{"p":10,"i":82,"v":22.266},{"p":10,"i":83,"v":22.216},{"p":10,"i":84,"v":22.236},{"p":10,"i":85,"v":22.191},{"p":10,"i":86,"v":22.256},{"p":10,"i":87,"v":22.221},{"p":10,"i":88,"v":22.206},{"p":10,"i":89,"v":22.246},
{"p":10,"i":90,"v":22.231},{"p":10,"i":91,"v":22.176},{"p":10,"i":92,"v":22.251},{"p":10,"i":93,"v":22.211},{"p":10,"i":94,"v":22.241},{"p":10,"i":95,"v":22.186},{"p":10,"i":96,"v":22.226},{"p":10,"i":97,"v":22.261},{"p":10,"i":98,"v":22.196},{"p":10,"i":99,"v":22.236},
{"p":11,"i":0,"v":4.98},{"p":11,"i":1,"v":5},{"p":11,"i":2,"v":4.7},{"p":11,"i":3,"v":4.12},{"p":11,"i":4,"v":4.38},{"p":11,"i":5,"v":3.94},{"p":11,"i":6,"v":4.15},{"p":11,"i":7,"v":3.92},{"p":11,"i":8,"v":4.58},{"p":11,"i":9,"v":3.97},
{"p":11,"i":10,"v":4.47},{"p":11,"i":11,"v":4.68},{"p":11,"i":12,"v":4.05},{"p":11,"i":13,"v":4.22},{"p":11,"i":14,"v":4.3},{"p":11,"i":15,"v":4.9},{"p":11,"i":16,"v":3.86},{"p":11,"i":17,"v":4.02},{"p":11,"i":18,"v":4.95},{"p":11,"i":19,"v":4.62},
{"p":11,"i":20,"v":4.75},{"p":11,"i":21,"v":4.66},{"p":11,"i":22,"v":4.55},{"p":11,"i":23,"v":4.4},{"p":11,"i":24,"v":4.32},{"p":11,"i":25,"v":5.18},{"p":11,"i":26,"v":4.5},{"p":11,"i":27,"v":4.3},{"p":11,"i":28,"v":4.78},{"p":11,"i":29,"v":4.02},
{"p":11,"i":30,"v":4.25},{"p":11,"i":31,"v":4.8},{"p":11,"i":32,"v":4.03},{"p":11,"i":33,"v":4.36},{"p":11,"i":34,"v":4.92},{"p":11,"i":35,"v":3.9},{"p":11,"i":36,"v":4.58},{"p":11,"i":37,"v":4.8},{"p":11,"i":38,"v":4.4},{"p":11,"i":39,"v":4.68},
{"p":11,"i":40,"v":4.22},{"p":11,"i":41,"v":4.84},{"p":11,"i":42,"v":4.45},{"p":11,"i":43,"v":4.6},{"p":11,"i":44,"v":4.3},{"p":11,"i":45,"v":4.38},{"p":11,"i":46,"v":4.72},{"p":11,"i":47,"v":4.25},{"p":11,"i":48,"v":4.42},{"p":11,"i":49,"v":3.98},
{"p":11,"i":50,"v":5.1},{"p":11,"i":51,"v":4.35},{"p":11,"i":52,"v":4.98},{"p":11,"i":53,"v":4.28},{"p":11,"i":54,"v":4.65},{"p":11,"i":55,"v":4.2},{"p":11,"i":56,"v":4.33},{"p":11,"i":57,"v":4.5},{"p":11,"i":58,"v":4.82},{"p":11,"i":59,"v":4.1},
{"p":11,"i":60,"v":4.75},{"p":11,"i":61,"v":4.25},{"p":11,"i":62,"v":4.15},{"p":11,"i":63,"v":4.92},{"p":11,"i":64,"v":4.3},{"p":11,"i":65,"v":4.55},{"p":11,"i":66,"v":4.02},{"p":11,"i":67,"v":4.4},{"p":11,"i":68,"v":4.68},{"p":11,"i":69,"v":4.22},
{"p":11,"i":70,"v":4.1},{"p":11,"i":71,"v":4.35},{"p":11,"i":72,"v":3.88},{"p":11,"i":73,"v":4.62},{"p":11,"i":74,"v":5.21},{"p":11,"i":75,"v":4.48},{"p":11,"i":76,"v":4.05},{"p":11,"i":77,"v":4.7},{"p":11,"i":78,"v":4.32},{"p":11,"i":79,"v":4.68},
{"p":11,"i":80,"v":4.18},{"p":11,"i":81,"v":3.85},{"p":11,"i":82,"v":4.45},{"p":11,"i":83,"v":4.7},{"p":11,"i":84,"v":4.6},{"p":11,"i":85,"v":4.02},{"p":11,"i":86,"v":4.38},{"p":11,"i":87,"v":4.7},{"p":11,"i":88,"v":4.25},{"p":11,"i":89,"v":4.5},
{"p":11,"i":90,"v":4.72},{"p":11,"i":91,"v":3.98},{"p":11,"i":92,"v":4.48},{"p":11,"i":93,"v":4.6},{"p":11,"i":94,"v":4.3},{"p":11,"i":95,"v":4.65},{"p":11,"i":96,"v":4.42},{"p":11,"i":97,"v":4.15},{"p":11,"i":98,"v":4.55},{"p":11,"i":99,"v":4.38},
{"p":12,"i":0,"v":18.2},{"p":12,"i":1,"v":22.6},{"p":12,"i":2,"v":24},{"p":12,"i":3,"v":20.1},{"p":12,"i":4,"v":19},{"p":12,"i":5,"v":25.3},{"p":12,"i":6,"v":17.4},{"p":12,"i":7,"v":20.8},{"p":12,"i":8,"v":17},{"p":12,"i":9,"v":21.9},
{"p":12,"i":10,"v":15.2},{"p":12,"i":11,"v":16.9},{"p":12,"i":12,"v":27.6},{"p":12,"i":13,"v":17.1},{"p":12,"i":14,"v":21},{"p":12,"i":15,"v":28.9},{"p":12,"i":16,"v":20.4},{"p":12,"i":17,"v":21.3},{"p":12,"i":18,"v":27.8},{"p":12,"i":19,"v":27.2},
{"p":12,"i":20,"v":18.6},{"p":12,"i":21,"v":16.8},{"p":12,"i":22,"v":14.6},{"p":12,"i":23,"v":13.4},{"p":12,"i":24,"v":18},{"p":12,"i":25,"v":26.5},{"p":12,"i":26,"v":26.1},{"p":12,"i":27,"v":23.2},{"p":12,"i":28,"v":23.9},{"p":12,"i":29,"v":19.8},
{"p":12,"i":30,"v":32.4},{"p":12,"i":31,"v":29.2},{"p":12,"i":32,"v":14.4},{"p":12,"i":33,"v":26.7},{"p":12,"i":34,"v":28.8},{"p":12,"i":35,"v":23.5},{"p":12,"i":36,"v":25},{"p":12,"i":37,"v":29.3},{"p":12,"i":38,"v":24.6},{"p":12,"i":39,"v":25.5},
{"p":12,"i":40,"v":28.2},{"p":12,"i":41,"v":22.7},{"p":12,"i":42,"v":19.9},{"p":12,"i":43,"v":23.8},{"p":12,"i":44,"v":24.9},{"p":12,"i":45,"v":17.3},{"p":12,"i":46,"v":21.5},{"p":12,"i":47,"v":16},{"p":12,"i":48,"v":25.2},{"p":12,"i":49,"v":21.9},
{"p":12,"i":50,"v":19.8},{"p":12,"i":51,"v":17.6},{"p":12,"i":52,"v":30.5},{"p":12,"i":53,"v":24.2},{"p":12,"i":54,"v":21.1},{"p":12,"i":55,"v":20.3},{"p":12,"i":56,"v":22.4},{"p":12,"i":57,"v":15.1},{"p":12,"i":58,"v":27.9},{"p":12,"i":59,"v":25.5},
{"p":12,"i":60,"v":23.6},{"p":12,"i":61,"v":19.4},{"p":12,"i":62,"v":18.8},{"p":12,"i":63,"v":15.3},{"p":12,"i":64,"v":29.6},{"p":12,"i":65,"v":22.8},{"p":12,"i":66,"v":19.5},{"p":12,"i":67,"v":27},{"p":12,"i":68,"v":24.4},{"p":12,"i":69,"v":21.6},
{"p":12,"i":70,"v":16.2},{"p":12,"i":71,"v":25.9},{"p":12,"i":72,"v":29},{"p":12,"i":73,"v":20.1},{"p":12,"i":74,"v":11.4},{"p":12,"i":75,"v":23.7},{"p":12,"i":76,"v":12.9},{"p":12,"i":77,"v":27.2},{"p":12,"i":78,"v":14.9},{"p":12,"i":79,"v":22.3},
{"p":12,"i":80,"v":35.5},{"p":12,"i":81,"v":26.8},{"p":12,"i":82,"v":27.4},{"p":12,"i":83,"v":15.6},{"p":12,"i":84,"v":26.9},{"p":12,"i":85,"v":21.4},{"p":12,"i":86,"v":23.1},{"p":12,"i":87,"v":27},{"p":12,"i":88,"v":20.7},{"p":12,"i":89,"v":25.8},
{"p":12,"i":90,"v":18.3},{"p":12,"i":91,"v":28.6},{"p":12,"i":92,"v":22},{"p":12,"i":93,"v":16.4},{"p":12,"i":94,"v":24.6},{"p":12,"i":95,"v":30.1},{"p":12,"i":96,"v":19.2},{"p":12,"i":97,"v":26.3},{"p":12,"i":98,"v":21.7},{"p":12,"i":99,"v":25},
{"p":13,"i":0,"v":4.168},{"p":13,"i":1,"v":4.1648},{"p":13,"i":2,"v":4.17},{"p":13,"i":3,"v":4.1672},{"p":13,"i":4,"v":4.164},{"p":13,"i":5,"v":4.1684},{"p":13,"i":6,"v":4.166},{"p":13,"i":7,"v":4.1692},{"p":13,"i":8,"v":4.1632},{"p":13,"i":9,"v":4.1676},
{"p":13,"i":10,"v":4.1688},{"p":13,"i":11,"v":4.1656},{"p":13,"i":12,"v":4.1668},{"p":13,"i":13,"v":4.1696},{"p":13,"i":14,"v":4.1644},{"p":13,"i":15,"v":4.168},{"p":13,"i":16,"v":4.1664},{"p":13,"i":17,"v":4.1704},{"p":13,"i":18,"v":4.1652},{"p":13,"i":19,"v":4.1676},
{"p":13,"i":20,"v":4.1636},{"p":13,"i":21,"v":4.1688},{"p":13,"i":22,"v":4.1672},{"p":13,"i":23,"v":4.1656},{"p":13,"i":24,"v":4.1692},{"p":13,"i":25,"v":4.166},{"p":13,"i":26,"v":4.1684},{"p":13,"i":27,"v":4.164},{"p":13,"i":28,"v":4.168},{"p":13,"i":29,"v":4.1668},
{"p":13,"i":30,"v":4.17},{"p":13,"i":31,"v":4.1648},{"p":13,"i":32,"v":4.1676},{"p":13,"i":33,"v":4.1664},{"p":13,"i":34,"v":4.1692},{"p":13,"i":35,"v":4.1636},{"p":13,"i":36,"v":4.168},{"p":13,"i":37,"v":4.1688},{"p":13,"i":38,"v":4.1652},{"p":13,"i":39,"v":4.1672},
{"p":13,"i":40,"v":4.1644},{"p":13,"i":41,"v":4.1696},{"p":13,"i":42,"v":4.166},{"p":13,"i":43,"v":4.1684},{"p":13,"i":44,"v":4.1656},{"p":13,"i":45,"v":4.1704},{"p":13,"i":46,"v":4.1664},{"p":13,"i":47,"v":4.1676},{"p":13,"i":48,"v":4.164},{"p":13,"i":49,"v":4.1688},
{"p":13,"i":50,"v":4.1668},{"p":13,"i":51,"v":4.1652},{"p":13,"i":52,"v":4.1692},{"p":13,"i":53,"v":4.168},{"p":13,"i":54,"v":4.1632},{"p":13,"i":55,"v":4.1676},{"p":13,"i":56,"v":4.166},{"p":13,"i":57,"v":4.1688},{"p":13,"i":58,"v":4.1648},{"p":13,"i":59,"v":4.17},
{"p":13,"i":60,"v":4.1672},{"p":13,"i":61,"v":4.1656},{"p":13,"i":62,"v":4.1684},{"p":13,"i":63,"v":4.1644},{"p":13,"i":64,"v":4.1676},{"p":13,"i":65,"v":4.1696},{"p":13,"i":66,"v":4.1664},{"p":13,"i":67,"v":4.1652},{"p":13,"i":68,"v":4.168},{"p":13,"i":69,"v":4.1692},
{"p":13,"i":70,"v":4.1636},{"p":13,"i":71,"v":4.1672},{"p":13,"i":72,"v":4.1688},{"p":13,"i":73,"v":4.166},{"p":13,"i":74,"v":4.1668},{"p":13,"i":75,"v":4.1648},{"p":13,"i":76,"v":4.1696},{"p":13,"i":77,"v":4.168},{"p":13,"i":78,"v":4.1656},{"p":13,"i":79,"v":4.1684},
{"p":13,"i":80,"v":4.164},{"p":13,"i":81,"v":4.1676},{"p":13,"i":82,"v":4.17},{"p":13,"i":83,"v":4.1664},{"p":13,"i":84,"v":4.1644},{"p":13,"i":85,"v":4.1688},{"p":13,"i":86,"v":4.1672},{"p":13,"i":87,"v":4.1652},{"p":13,"i":88,"v":4.1692},{"p":13,"i":89,"v":4.166},
{"p":13,"i":90,"v":4.168},{"p":13,"i":91,"v":4.1632},{"p":13,"i":92,"v":4.1684},{"p":13,"i":93,"v":4.1668},{"p":13,"i":94,"v":4.1656},{"p":13,"i":95,"v":4.1696},{"p":13,"i":96,"v":4.1648},{"p":13,"i":97,"v":4.1676},{"p":13,"i":98,"v":4.1692},{"p":13,"i":99,"v":4.1664},
{"p":14,"i":0,"v":20.829},{"p":14,"i":1,"v":20.857},{"p":14,"i":2,"v":20.841},{"p":14,"i":3,"v":20.813},{"p":14,"i":4,"v":20.861},{"p":14,"i":5,"v":20.821},{"p":14,"i":6,"v":20.833},{"p":14,"i":7,"v":20.849},{"p":14,"i":8,"v":20.797},{"p":14,"i":9,"v":20.845},
{"p":14,"i":10,"v":20.825},{"p":14,"i":11,"v":20.857},{"p":14,"i":12,"v":20.817},{"p":14,"i":13,"v":20.837},{"p":14,"i":14,"v":20.853},{"p":14,"i":15,"v":20.809},{"p":14,"i":16,"v":20.829},{"p":14,"i":17,"v":20.865},{"p":14,"i":18,"v":20.841},{"p":14,"i":19,"v":20.805},
{"p":14,"i":20,"v":20.849},{"p":14,"i":21,"v":20.821},{"p":14,"i":22,"v":20.845},{"p":14,"i":23,"v":20.861},{"p":14,"i":24,"v":20.813},{"p":14,"i":25,"v":20.833},{"p":14,"i":26,"v":20.825},{"p":14,"i":27,"v":20.853},{"p":14,"i":28,"v":20.837},{"p":14,"i":29,"v":20.801},
{"p":14,"i":30,"v":20.857},{"p":14,"i":31,"v":20.845},{"p":14,"i":32,"v":20.817},{"p":14,"i":33,"v":20.829},{"p":14,"i":34,"v":20.861},{"p":14,"i":35,"v":20.841},{"p":14,"i":36,"v":20.809},{"p":14,"i":37,"v":20.849},{"p":14,"i":38,"v":20.821},{"p":14,"i":39,"v":20.837},
{"p":14,"i":40,"v":20.865},{"p":14,"i":41,"v":20.813},{"p":14,"i":42,"v":20.853},{"p":14,"i":43,"v":20.825},{"p":14,"i":44,"v":20.841},{"p":14,"i":45,"v":20.797},{"p":14,"i":46,"v":20.845},{"p":14,"i":47,"v":20.857},{"p":14,"i":48,"v":20.817},{"p":14,"i":49,"v":20.833},
{"p":14,"i":50,"v":20.853},{"p":14,"i":51,"v":20.805},{"p":14,"i":52,"v":20.841},{"p":14,"i":53,"v":20.829},{"p":14,"i":54,"v":20.869},{"p":14,"i":55,"v":20.821},{"p":14,"i":56,"v":20.849},{"p":14,"i":57,"v":20.825},{"p":14,"i":58,"v":20.861},{"p":14,"i":59,"v":20.809},
{"p":14,"i":60,"v":20.837},{"p":14,"i":61,"v":20.817},{"p":14,"i":62,"v":20.853},{"p":14,"i":63,"v":20.845},{"p":14,"i":64,"v":20.801},{"p":14,"i":65,"v":20.857},{"p":14,"i":66,"v":20.829},{"p":14,"i":67,"v":20.841},{"p":14,"i":68,"v":20.813},{"p":14,"i":69,"v":20.865},
{"p":14,"i":70,"v":20.833},{"p":14,"i":71,"v":20.845},{"p":14,"i":72,"v":20.805},{"p":14,"i":73,"v":20.849},{"p":14,"i":74,"v":20.825},{"p":14,"i":75,"v":20.857},{"p":14,"i":76,"v":20.821},{"p":14,"i":77,"v":20.837},{"p":14,"i":78,"v":20.853},{"p":14,"i":79,"v":20.801},
{"p":14,"i":80,"v":20.841},{"p":14,"i":81,"v":20.817},{"p":14,"i":82,"v":20.869},{"p":14,"i":83,"v":20.829},{"p":14,"i":84,"v":20.845},{"p":14,"i":85,"v":20.809},{"p":14,"i":86,"v":20.861},{"p":14,"i":87,"v":20.833},{"p":14,"i":88,"v":20.821},{"p":14,"i":89,"v":20.853},
{"p":14,"i":90,"v":20.841},{"p":14,"i":91,"v":20.797},{"p":14,"i":92,"v":20.857},{"p":14,"i":93,"v":20.825},{"p":14,"i":94,"v":20.849},{"p":14,"i":95,"v":20.805},{"p":14,"i":96,"v":20.837},{"p":14,"i":97,"v":20.865},{"p":14,"i":98,"v":20.813},{"p":14,"i":99,"v":20.845},
{"p":15,"i":0,"v":4.52},{"p":15,"i":1,"v":4.65},{"p":15,"i":2,"v":4.5},{"p":15,"i":3,"v":4.05},{"p":15,"i":4,"v":3.86},{"p":15,"i":5,"v":4.18},{"p":15,"i":6,"v":3.88},{"p":15,"i":7,"v":4.02},{"p":15,"i":8,"v":3.82},{"p":15,"i":9,"v":4.2},
{"p":15,"i":10,"v":4.19},{"p":15,"i":11,"v":3.85},{"p":15,"i":12,"v":3.78},{"p":15,"i":13,"v":4.35},{"p":15,"i":14,"v":4.05},{"p":15,"i":15,"v":4.1},{"p":15,"i":16,"v":3.97},{"p":15,"i":17,"v":4.46},{"p":15,"i":18,"v":3.98},{"p":15,"i":19,"v":3.76},
{"p":15,"i":20,"v":4.08},{"p":15,"i":21,"v":4.05},{"p":15,"i":22,"v":4.22},{"p":15,"i":23,"v":4.38},{"p":15,"i":24,"v":4.18},{"p":15,"i":25,"v":4.5},{"p":15,"i":26,"v":4.28},{"p":15,"i":27,"v":4.34},{"p":15,"i":28,"v":4.12},{"p":15,"i":29,"v":3.9},
{"p":15,"i":30,"v":4.55},{"p":15,"i":31,"v":4.08},{"p":15,"i":32,"v":4.3},{"p":15,"i":33,"v":3.82},{"p":15,"i":34,"v":3.79},{"p":15,"i":35,"v":3.65},{"p":15,"i":36,"v":4.05},{"p":15,"i":37,"v":4.4},{"p":15,"i":38,"v":4.42},{"p":15,"i":39,"v":4.38},
{"p":15,"i":40,"v":4.15},{"p":15,"i":41,"v":4.52},{"p":15,"i":42,"v":3.86},{"p":15,"i":43,"v":4.28},{"p":15,"i":44,"v":4.15},{"p":15,"i":45,"v":4.12},{"p":15,"i":46,"v":4.35},{"p":15,"i":47,"v":4.62},{"p":15,"i":48,"v":4.02},{"p":15,"i":49,"v":4.48},
{"p":15,"i":50,"v":4.3},{"p":15,"i":51,"v":4.1},{"p":15,"i":52,"v":3.96},{"p":15,"i":53,"v":4.4},{"p":15,"i":54,"v":4.22},{"p":15,"i":55,"v":4},{"p":15,"i":56,"v":3.78},{"p":15,"i":57,"v":4.18},{"p":15,"i":58,"v":4.42},{"p":15,"i":59,"v":4.08},
{"p":15,"i":60,"v":4.2},{"p":15,"i":61,"v":4.02},{"p":15,"i":62,"v":3.98},{"p":15,"i":63,"v":4.36},{"p":15,"i":64,"v":4.15},{"p":15,"i":65,"v":3.92},{"p":15,"i":66,"v":4.05},{"p":15,"i":67,"v":3.8},{"p":15,"i":68,"v":4.3},{"p":15,"i":69,"v":4.12},
{"p":15,"i":70,"v":4.45},{"p":15,"i":71,"v":4.38},{"p":15,"i":72,"v":4.05},{"p":15,"i":73,"v":3.82},{"p":15,"i":74,"v":4.28},{"p":15,"i":75,"v":4.18},{"p":15,"i":76,"v":4.4},{"p":15,"i":77,"v":3.75},{"p":15,"i":78,"v":4.1},{"p":15,"i":79,"v":4.22},
{"p":15,"i":80,"v":4.35},{"p":15,"i":81,"v":4.02},{"p":15,"i":82,"v":4.45},{"p":15,"i":83,"v":4.15},{"p":15,"i":84,"v":3.95},{"p":15,"i":85,"v":4.25},{"p":15,"i":86,"v":4.05},{"p":15,"i":87,"v":4.38},{"p":15,"i":88,"v":4.18},{"p":15,"i":89,"v":3.86},
{"p":15,"i":90,"v":4.42},{"p":15,"i":91,"v":4.12},{"p":15,"i":92,"v":3.92},{"p":15,"i":93,"v":4.3},{"p":15,"i":94,"v":4.48},{"p":15,"i":95,"v":4.08},{"p":15,"i":96,"v":4.2},{"p":15,"i":97,"v":3.88},{"p":15,"i":98,"v":4.32},{"p":15,"i":99,"v":4.15},
{"p":16,"i":0,"v":23.9},{"p":16,"i":1,"v":18.9},{"p":16,"i":2,"v":18.6},{"p":16,"i":3,"v":21.8},{"p":16,"i":4,"v":20.6},{"p":16,"i":5,"v":19.4},{"p":16,"i":6,"v":17.9},{"p":16,"i":7,"v":15.6},{"p":16,"i":8,"v":17.4},{"p":16,"i":9,"v":15.9},
{"p":16,"i":10,"v":16.9},{"p":16,"i":11,"v":24.1},{"p":16,"i":12,"v":20.6},{"p":16,"i":13,"v":21.4},{"p":16,"i":14,"v":24.2},{"p":16,"i":15,"v":22.7},{"p":16,"i":16,"v":25.8},{"p":16,"i":17,"v":18.6},{"p":16,"i":18,"v":21.7},{"p":16,"i":19,"v":17.7},
{"p":16,"i":20,"v":16.5},{"p":16,"i":21,"v":20.4},{"p":16,"i":22,"v":22.1},{"p":16,"i":23,"v":17.3},{"p":16,"i":24,"v":19.9},{"p":16,"i":25,"v":20.8},{"p":16,"i":26,"v":21.4},{"p":16,"i":27,"v":22.6},{"p":16,"i":28,"v":19.6},{"p":16,"i":29,"v":23.8},
{"p":16,"i":30,"v":27.4},{"p":16,"i":31,"v":20.5},{"p":16,"i":32,"v":15.6},{"p":16,"i":33,"v":22.3},{"p":16,"i":34,"v":20.9},{"p":16,"i":35,"v":24.4},{"p":16,"i":36,"v":25.9},{"p":16,"i":37,"v":21.5},{"p":16,"i":38,"v":21},{"p":16,"i":39,"v":22.7},
{"p":16,"i":40,"v":20.8},{"p":16,"i":41,"v":21.6},{"p":16,"i":42,"v":21.1},{"p":16,"i":43,"v":23.3},{"p":16,"i":44,"v":21.2},{"p":16,"i":45,"v":18.9},{"p":16,"i":46,"v":24.4},{"p":16,"i":47,"v":23.2},{"p":16,"i":48,"v":21.8},{"p":16,"i":49,"v":16.6},
{"p":16,"i":50,"v":23.6},{"p":16,"i":51,"v":21.5},{"p":16,"i":52,"v":22},{"p":16,"i":53,"v":17.2},{"p":16,"i":54,"v":24.1},{"p":16,"i":55,"v":19.4},{"p":16,"i":56,"v":21},{"p":16,"i":57,"v":23.6},{"p":16,"i":58,"v":20.1},{"p":16,"i":59,"v":18.1},
{"p":16,"i":60,"v":23},{"p":16,"i":61,"v":17.4},{"p":16,"i":62,"v":21.9},{"p":16,"i":63,"v":23.4},{"p":16,"i":64,"v":19},{"p":16,"i":65,"v":20.6},{"p":16,"i":66,"v":22.2},{"p":16,"i":67,"v":18.9},{"p":16,"i":68,"v":17.2},{"p":16,"i":69,"v":21.1},
{"p":16,"i":70,"v":14.9},{"p":16,"i":71,"v":18.6},{"p":16,"i":72,"v":20.3},{"p":16,"i":73,"v":24.5},{"p":16,"i":74,"v":22.1},{"p":16,"i":75,"v":13.2},{"p":16,"i":76,"v":15.2},{"p":16,"i":77,"v":21.8},{"p":16,"i":78,"v":26.5},{"p":16,"i":79,"v":19.7},
{"p":16,"i":80,"v":23},{"p":16,"i":81,"v":24.2},{"p":16,"i":82,"v":17.1},{"p":16,"i":83,"v":21.2},{"p":16,"i":84,"v":18},{"p":16,"i":85,"v":24.6},{"p":16,"i":86,"v":19.3},{"p":16,"i":87,"v":22.4},{"p":16,"i":88,"v":16.8},{"p":16,"i":89,"v":20.7},
{"p":16,"i":90,"v":23.1},{"p":16,"i":91,"v":18.4},{"p":16,"i":92,"v":24.8},{"p":16,"i":93,"v":19.5},{"p":16,"i":94,"v":22},{"p":16,"i":95,"v":17.8},{"p":16,"i":96,"v":21.6},{"p":16,"i":97,"v":24.3},{"p":16,"i":98,"v":20.2},{"p":16,"i":99,"v":22.6},
{"p":17,"i":0,"v":3.9995},{"p":17,"i":1,"v":3.9997},{"p":17,"i":2,"v":4.0012},{"p":17,"i":3,"v":3.9991},{"p":17,"i":4,"v":4.0028},{"p":17,"i":5,"v":4.0051},{"p":17,"i":6,"v":4.0002},{"p":17,"i":7,"v":4.001},{"p":17,"i":8,"v":3.9985},{"p":17,"i":9,"v":4.0043},
{"p":17,"i":10,"v":4.0005},{"p":17,"i":11,"v":4.0018},{"p":17,"i":12,"v":4.0016},{"p":17,"i":13,"v":3.9999},{"p":17,"i":14,"v":4.0021},{"p":17,"i":15,"v":4.0017},{"p":17,"i":16,"v":4.002},{"p":17,"i":17,"v":3.9992},{"p":17,"i":18,"v":4.0015},{"p":17,"i":19,"v":4.0003},
{"p":17,"i":20,"v":3.9988},{"p":17,"i":21,"v":3.999},{"p":17,"i":22,"v":4.0004},{"p":17,"i":23,"v":3.9998},{"p":17,"i":24,"v":3.996},{"p":17,"i":25,"v":4.0012},{"p":17,"i":26,"v":3.9986},{"p":17,"i":27,"v":4.0007},{"p":17,"i":28,"v":4},{"p":17,"i":29,"v":4.0002},
{"p":17,"i":30,"v":3.9993},{"p":17,"i":31,"v":4.0043},{"p":17,"i":32,"v":4.0001},{"p":17,"i":33,"v":3.998},{"p":17,"i":34,"v":4.0003},{"p":17,"i":35,"v":3.9975},{"p":17,"i":36,"v":3.9979},{"p":17,"i":37,"v":3.997},{"p":17,"i":38,"v":3.9989},{"p":17,"i":39,"v":4.0004},
{"p":17,"i":40,"v":3.9986},{"p":17,"i":41,"v":3.9991},{"p":17,"i":42,"v":3.9987},{"p":17,"i":43,"v":4.0001},{"p":17,"i":44,"v":4.0003},{"p":17,"i":45,"v":3.9984},{"p":17,"i":46,"v":3.9962},{"p":17,"i":47,"v":3.9996},{"p":17,"i":48,"v":4.0008},{"p":17,"i":49,"v":4.004},
{"p":17,"i":50,"v":3.9947},{"p":17,"i":51,"v":3.9985},{"p":17,"i":52,"v":4.001},{"p":17,"i":53,"v":3.9986},{"p":17,"i":54,"v":4},{"p":17,"i":55,"v":4.0012},{"p":17,"i":56,"v":4.0006},{"p":17,"i":57,"v":4.0014},{"p":17,"i":58,"v":4.002},{"p":17,"i":59,"v":4.0022},
{"p":17,"i":60,"v":4.0027},{"p":17,"i":61,"v":4.0008},{"p":17,"i":62,"v":4.003},{"p":17,"i":63,"v":4.0018},{"p":17,"i":64,"v":4.0024},{"p":17,"i":65,"v":4.0033},{"p":17,"i":66,"v":4.0021},{"p":17,"i":67,"v":3.9965},{"p":17,"i":68,"v":4.002},{"p":17,"i":69,"v":4.0005},
{"p":17,"i":70,"v":4.0018},{"p":17,"i":71,"v":4.0013},{"p":17,"i":72,"v":3.9996},{"p":17,"i":73,"v":4.0002},{"p":17,"i":74,"v":3.9955},{"p":17,"i":75,"v":4.0012},{"p":17,"i":76,"v":4.0019},{"p":17,"i":77,"v":4.0007},{"p":17,"i":78,"v":3.9981},{"p":17,"i":79,"v":4},
{"p":17,"i":80,"v":4.0044},{"p":17,"i":81,"v":3.998},{"p":17,"i":82,"v":3.9978},{"p":17,"i":83,"v":4.0015},{"p":17,"i":84,"v":4.0005},{"p":17,"i":85,"v":3.999},{"p":17,"i":86,"v":3.9997},{"p":17,"i":87,"v":4.0028},{"p":17,"i":88,"v":3.9973},{"p":17,"i":89,"v":4.0009},
{"p":17,"i":90,"v":3.9988},{"p":17,"i":91,"v":4.0022},{"p":17,"i":92,"v":4.0003},{"p":17,"i":93,"v":3.9994},{"p":17,"i":94,"v":4.0035},{"p":17,"i":95,"v":3.9982},{"p":17,"i":96,"v":4.0008},{"p":17,"i":97,"v":4.0001},{"p":17,"i":98,"v":3.9998},{"p":17,"i":99,"v":4.0024},
{"p":18,"i":0,"v":20.05},{"p":18,"i":1,"v":20.008},{"p":18,"i":2,"v":20.002},{"p":18,"i":3,"v":19.985},{"p":18,"i":4,"v":19.962},{"p":18,"i":5,"v":20.005},{"p":18,"i":6,"v":20.012},{"p":18,"i":7,"v":20.019},{"p":18,"i":8,"v":19.989},{"p":18,"i":9,"v":20.006},
{"p":18,"i":10,"v":20.022},{"p":18,"i":11,"v":19.991},{"p":18,"i":12,"v":20.018},{"p":18,"i":13,"v":20.025},{"p":18,"i":14,"v":20.01},{"p":18,"i":15,"v":19.98},{"p":18,"i":16,"v":19.955},{"p":18,"i":17,"v":20.003},{"p":18,"i":18,"v":20.013},{"p":18,"i":19,"v":19.996},
{"p":18,"i":20,"v":20.026},{"p":18,"i":21,"v":20.014},{"p":18,"i":22,"v":19.998},{"p":18,"i":23,"v":19.992},{"p":18,"i":24,"v":20.016},{"p":18,"i":25,"v":19.994},{"p":18,"i":26,"v":20.028},{"p":18,"i":27,"v":19.995},{"p":18,"i":28,"v":19.987},{"p":18,"i":29,"v":20.02},
{"p":18,"i":30,"v":20.03},{"p":18,"i":31,"v":20.004},{"p":18,"i":32,"v":19.982},{"p":18,"i":33,"v":20.009},{"p":18,"i":34,"v":20.031},{"p":18,"i":35,"v":20.024},{"p":18,"i":36,"v":19.988},{"p":18,"i":37,"v":19.97},{"p":18,"i":38,"v":19.984},{"p":18,"i":39,"v":20.002},
{"p":18,"i":40,"v":19.973},{"p":18,"i":41,"v":19.978},{"p":18,"i":42,"v":19.969},{"p":18,"i":43,"v":19.985},{"p":18,"i":44,"v":19.981},{"p":18,"i":45,"v":20.011},{"p":18,"i":46,"v":19.975},{"p":18,"i":47,"v":19.964},{"p":18,"i":48,"v":20.007},{"p":18,"i":49,"v":19.986},
{"p":18,"i":50,"v":20.008},{"p":18,"i":51,"v":19.98},{"p":18,"i":52,"v":20.015},{"p":18,"i":53,"v":20.012},{"p":18,"i":54,"v":19.997},{"p":18,"i":55,"v":20.019},{"p":18,"i":56,"v":19.959},{"p":18,"i":57,"v":20.006},{"p":18,"i":58,"v":19.99},{"p":18,"i":59,"v":20.005},
{"p":18,"i":60,"v":20.017},{"p":18,"i":61,"v":20.009},{"p":18,"i":62,"v":19.999},{"p":18,"i":63,"v":20.02},{"p":18,"i":64,"v":20.014},{"p":18,"i":65,"v":20.029},{"p":18,"i":66,"v":19.993},{"p":18,"i":67,"v":20.013},{"p":18,"i":68,"v":20.026},{"p":18,"i":69,"v":19.972},
{"p":18,"i":70,"v":20.021},{"p":18,"i":71,"v":20.01},{"p":18,"i":72,"v":19.967},{"p":18,"i":73,"v":20.018},{"p":18,"i":74,"v":20.008},{"p":18,"i":75,"v":19.987},{"p":18,"i":76,"v":20.011},{"p":18,"i":77,"v":20.004},{"p":18,"i":78,"v":20.015},{"p":18,"i":79,"v":19.998},
{"p":18,"i":80,"v":20.009},{"p":18,"i":81,"v":20.023},{"p":18,"i":82,"v":19.983},{"p":18,"i":83,"v":20.001},{"p":18,"i":84,"v":20.01},{"p":18,"i":85,"v":19.976},{"p":18,"i":86,"v":20.012},{"p":18,"i":87,"v":19.991},{"p":18,"i":88,"v":20.016},{"p":18,"i":89,"v":19.979},
{"p":18,"i":90,"v":20.007},{"p":18,"i":91,"v":19.986},{"p":18,"i":92,"v":20.003},{"p":18,"i":93,"v":20.019},{"p":18,"i":94,"v":19.994},{"p":18,"i":95,"v":20.011},{"p":18,"i":96,"v":19.982},{"p":18,"i":97,"v":20.005},{"p":18,"i":98,"v":20.017},{"p":18,"i":99,"v":19.996},
{"p":19,"i":0,"v":4.3},{"p":19,"i":1,"v":4.31},{"p":19,"i":2,"v":4.08},{"p":19,"i":3,"v":3.93},{"p":19,"i":4,"v":4.15},{"p":19,"i":5,"v":3.88},{"p":19,"i":6,"v":4.03},{"p":19,"i":7,"v":3.82},{"p":19,"i":8,"v":3.85},{"p":19,"i":9,"v":4.1},
{"p":19,"i":10,"v":3.78},{"p":19,"i":11,"v":3.84},{"p":19,"i":12,"v":4.06},{"p":19,"i":13,"v":3.91},{"p":19,"i":14,"v":3.8},{"p":19,"i":15,"v":3.74},{"p":19,"i":16,"v":4.25},{"p":19,"i":17,"v":3.83},{"p":19,"i":18,"v":4.01},{"p":19,"i":19,"v":3.9},
{"p":19,"i":20,"v":3.58},{"p":19,"i":21,"v":3.95},{"p":19,"i":22,"v":4.12},{"p":19,"i":23,"v":3.86},{"p":19,"i":24,"v":4.03},{"p":19,"i":25,"v":4.2},{"p":19,"i":26,"v":4.27},{"p":19,"i":27,"v":4.09},{"p":19,"i":28,"v":4.18},{"p":19,"i":29,"v":3.97},
{"p":19,"i":30,"v":4.22},{"p":19,"i":31,"v":4.15},{"p":19,"i":32,"v":3.92},{"p":19,"i":33,"v":4.3},{"p":19,"i":34,"v":4.05},{"p":19,"i":35,"v":3.76},{"p":19,"i":36,"v":4.11},{"p":19,"i":37,"v":3.67},{"p":19,"i":38,"v":3.55},{"p":19,"i":39,"v":4.02},
{"p":19,"i":40,"v":3.64},{"p":19,"i":41,"v":4.07},{"p":19,"i":42,"v":3.81},{"p":19,"i":43,"v":4.25},{"p":19,"i":44,"v":4.16},{"p":19,"i":45,"v":4.21},{"p":19,"i":46,"v":3.94},{"p":19,"i":47,"v":4.34},{"p":19,"i":48,"v":4.13},{"p":19,"i":49,"v":4.4},
{"p":19,"i":50,"v":4.43},{"p":19,"i":51,"v":3.89},{"p":19,"i":52,"v":4.28},{"p":19,"i":53,"v":3.96},{"p":19,"i":54,"v":4.17},{"p":19,"i":55,"v":4.35},{"p":19,"i":56,"v":4.08},{"p":19,"i":57,"v":3.84},{"p":19,"i":58,"v":4.12},{"p":19,"i":59,"v":3.62},
{"p":19,"i":60,"v":3.98},{"p":19,"i":61,"v":4.31},{"p":19,"i":62,"v":3.78},{"p":19,"i":63,"v":4.36},{"p":19,"i":64,"v":4.04},{"p":19,"i":65,"v":4.1},{"p":19,"i":66,"v":3.72},{"p":19,"i":67,"v":4.19},{"p":19,"i":68,"v":3.93},{"p":19,"i":69,"v":3.63},
{"p":19,"i":70,"v":4.14},{"p":19,"i":71,"v":3.87},{"p":19,"i":72,"v":4.06},{"p":19,"i":73,"v":4.24},{"p":19,"i":74,"v":3.8},{"p":19,"i":75,"v":4.09},{"p":19,"i":76,"v":3.99},{"p":19,"i":77,"v":3.91},{"p":19,"i":78,"v":3.62},{"p":19,"i":79,"v":4.16},
{"p":19,"i":80,"v":4.48},{"p":19,"i":81,"v":3.86},{"p":19,"i":82,"v":4.03},{"p":19,"i":83,"v":4.2},{"p":19,"i":84,"v":3.75},{"p":19,"i":85,"v":4.11},{"p":19,"i":86,"v":4.27},{"p":19,"i":87,"v":4.01},{"p":19,"i":88,"v":3.82},{"p":19,"i":89,"v":4.18},
{"p":19,"i":90,"v":3.88},{"p":19,"i":91,"v":4.05},{"p":19,"i":92,"v":3.7},{"p":19,"i":93,"v":4.22},{"p":19,"i":94,"v":4},{"p":19,"i":95,"v":3.92},{"p":19,"i":96,"v":4.13},{"p":19,"i":97,"v":3.77},{"p":19,"i":98,"v":4.07},{"p":19,"i":99,"v":4.15},
{"p":20,"i":0,"v":21.6},{"p":20,"i":1,"v":18.1},{"p":20,"i":2,"v":21.3},{"p":20,"i":3,"v":16.9},{"p":20,"i":4,"v":21.9},{"p":20,"i":5,"v":22.3},{"p":20,"i":6,"v":18.4},{"p":20,"i":7,"v":19.5},{"p":20,"i":8,"v":15.4},{"p":20,"i":9,"v":20.6},
{"p":20,"i":10,"v":19.8},{"p":20,"i":11,"v":17.9},{"p":20,"i":12,"v":23.3},{"p":20,"i":13,"v":17.3},{"p":20,"i":14,"v":22},{"p":20,"i":15,"v":15.6},{"p":20,"i":16,"v":18.9},{"p":20,"i":17,"v":16.5},{"p":20,"i":18,"v":20.2},{"p":20,"i":19,"v":22.7},
{"p":20,"i":20,"v":21.1},{"p":20,"i":21,"v":16.1},{"p":20,"i":22,"v":20.5},{"p":20,"i":23,"v":22},{"p":20,"i":24,"v":23.6},{"p":20,"i":25,"v":24.1},{"p":20,"i":26,"v":20.1},{"p":20,"i":27,"v":18},{"p":20,"i":28,"v":17.8},{"p":20,"i":29,"v":20.6},
{"p":20,"i":30,"v":17.9},{"p":20,"i":31,"v":19.7},{"p":20,"i":32,"v":22.2},{"p":20,"i":33,"v":17.4},{"p":20,"i":34,"v":21.5},{"p":20,"i":35,"v":22.8},{"p":20,"i":36,"v":18.6},{"p":20,"i":37,"v":21.9},{"p":20,"i":38,"v":23.8},{"p":20,"i":39,"v":18.8},
{"p":20,"i":40,"v":17.6},{"p":20,"i":41,"v":22.3},{"p":20,"i":42,"v":19.2},{"p":20,"i":43,"v":22.7},{"p":20,"i":44,"v":24},{"p":20,"i":45,"v":18.1},{"p":20,"i":46,"v":24.1},{"p":20,"i":47,"v":20.9},{"p":20,"i":48,"v":23.9},{"p":20,"i":49,"v":18.3},
{"p":20,"i":50,"v":21.1},{"p":20,"i":51,"v":17.5},{"p":20,"i":52,"v":20.4},{"p":20,"i":53,"v":19},{"p":20,"i":54,"v":22.4},{"p":20,"i":55,"v":16.7},{"p":20,"i":56,"v":21.3},{"p":20,"i":57,"v":19.3},{"p":20,"i":58,"v":20.7},{"p":20,"i":59,"v":17.1},
{"p":20,"i":60,"v":20.9},{"p":20,"i":61,"v":20.6},{"p":20,"i":62,"v":16.9},{"p":20,"i":63,"v":20.7},{"p":20,"i":64,"v":23},{"p":20,"i":65,"v":20.9},{"p":20,"i":66,"v":15.4},{"p":20,"i":67,"v":19.2},{"p":20,"i":68,"v":18.7},{"p":20,"i":69,"v":21.4},
{"p":20,"i":70,"v":16},{"p":20,"i":71,"v":19},{"p":20,"i":72,"v":22.8},{"p":20,"i":73,"v":17.5},{"p":20,"i":74,"v":19.5},{"p":20,"i":75,"v":21.8},{"p":20,"i":76,"v":14.8},{"p":20,"i":77,"v":19.6},{"p":20,"i":78,"v":18.9},{"p":20,"i":79,"v":23.3},
{"p":20,"i":80,"v":17.4},{"p":20,"i":81,"v":19.4},{"p":20,"i":82,"v":21.2},{"p":20,"i":83,"v":15.9},{"p":20,"i":84,"v":18.9},{"p":20,"i":85,"v":20.4},{"p":20,"i":86,"v":22.9},{"p":20,"i":87,"v":19.1},{"p":20,"i":88,"v":25.5},{"p":20,"i":89,"v":14.3},
{"p":20,"i":90,"v":20.3},{"p":20,"i":91,"v":13.8},{"p":20,"i":92,"v":21.9},{"p":20,"i":93,"v":17.7},{"p":20,"i":94,"v":22.1},{"p":20,"i":95,"v":20.8},{"p":20,"i":96,"v":18.4},{"p":20,"i":97,"v":21.6},{"p":20,"i":98,"v":16.5},{"p":20,"i":99,"v":22},
{"p":21,"i":0,"v":3.9992},{"p":21,"i":1,"v":3.9999},{"p":21,"i":2,"v":4.0014},{"p":21,"i":3,"v":3.999},{"p":21,"i":4,"v":4.0025},{"p":21,"i":5,"v":4.0057},{"p":21,"i":6,"v":4.0004},{"p":21,"i":7,"v":4.0009},{"p":21,"i":8,"v":3.9983},{"p":21,"i":9,"v":4.0037},
{"p":21,"i":10,"v":4.0006},{"p":21,"i":11,"v":4.0016},{"p":21,"i":12,"v":4.0018},{"p":21,"i":13,"v":4.0002},{"p":21,"i":14,"v":4.0019},{"p":21,"i":15,"v":4.0015},{"p":21,"i":16,"v":4.0022},{"p":21,"i":17,"v":3.9994},{"p":21,"i":18,"v":4.0017},{"p":21,"i":19,"v":4.0001},
{"p":21,"i":20,"v":3.9986},{"p":21,"i":21,"v":3.9991},{"p":21,"i":22,"v":4.0006},{"p":21,"i":23,"v":3.9996},{"p":21,"i":24,"v":3.9958},{"p":21,"i":25,"v":4.0014},{"p":21,"i":26,"v":3.9988},{"p":21,"i":27,"v":4.0005},{"p":21,"i":28,"v":4.0002},{"p":21,"i":29,"v":4},
{"p":21,"i":30,"v":3.9991},{"p":21,"i":31,"v":4.004},{"p":21,"i":32,"v":4.0003},{"p":21,"i":33,"v":3.9982},{"p":21,"i":34,"v":4.0005},{"p":21,"i":35,"v":3.9973},{"p":21,"i":36,"v":3.9981},{"p":21,"i":37,"v":3.9968},{"p":21,"i":38,"v":3.9991},{"p":21,"i":39,"v":4.0002},
{"p":21,"i":40,"v":3.9984},{"p":21,"i":41,"v":3.9993},{"p":21,"i":42,"v":3.9989},{"p":21,"i":43,"v":4.0003},{"p":21,"i":44,"v":4.0001},{"p":21,"i":45,"v":3.9982},{"p":21,"i":46,"v":3.9964},{"p":21,"i":47,"v":3.9998},{"p":21,"i":48,"v":4.001},{"p":21,"i":49,"v":4.0038},
{"p":21,"i":50,"v":3.9951},{"p":21,"i":51,"v":3.9987},{"p":21,"i":52,"v":4.0012},{"p":21,"i":53,"v":3.9984},{"p":21,"i":54,"v":4.0002},{"p":21,"i":55,"v":4.001},{"p":21,"i":56,"v":4.0008},{"p":21,"i":57,"v":4.0012},{"p":21,"i":58,"v":4.0022},{"p":21,"i":59,"v":4.002},
{"p":21,"i":60,"v":4.0025},{"p":21,"i":61,"v":4.001},{"p":21,"i":62,"v":4.0028},{"p":21,"i":63,"v":4.0016},{"p":21,"i":64,"v":4.0026},{"p":21,"i":65,"v":4.0031},{"p":21,"i":66,"v":4.0023},{"p":21,"i":67,"v":3.9967},{"p":21,"i":68,"v":4.0018},{"p":21,"i":69,"v":4.0007},
{"p":21,"i":70,"v":4.0016},{"p":21,"i":71,"v":4.0015},{"p":21,"i":72,"v":3.9994},{"p":21,"i":73,"v":4.0004},{"p":21,"i":74,"v":3.9957},{"p":21,"i":75,"v":4.001},{"p":21,"i":76,"v":4.0021},{"p":21,"i":77,"v":4.0005},{"p":21,"i":78,"v":3.9979},{"p":21,"i":79,"v":4.0002},
{"p":21,"i":80,"v":4.004},{"p":21,"i":81,"v":3.9978},{"p":21,"i":82,"v":3.998},{"p":21,"i":83,"v":4.0017},{"p":21,"i":84,"v":4.0003},{"p":21,"i":85,"v":3.9988},{"p":21,"i":86,"v":3.9999},{"p":21,"i":87,"v":4.0026},{"p":21,"i":88,"v":3.9975},{"p":21,"i":89,"v":4.0011},
{"p":21,"i":90,"v":3.999},{"p":21,"i":91,"v":4.002},{"p":21,"i":92,"v":4.0005},{"p":21,"i":93,"v":3.9992},{"p":21,"i":94,"v":4.0037},{"p":21,"i":95,"v":3.9984},{"p":21,"i":96,"v":4.0006},{"p":21,"i":97,"v":4.0003},{"p":21,"i":98,"v":3.9996},{"p":21,"i":99,"v":4.0022},
{"p":22,"i":0,"v":20.038},{"p":22,"i":1,"v":20.012},{"p":22,"i":2,"v":20.004},{"p":22,"i":3,"v":19.987},{"p":22,"i":4,"v":19.96},{"p":22,"i":5,"v":20.007},{"p":22,"i":6,"v":20.01},{"p":22,"i":7,"v":20.017},{"p":22,"i":8,"v":19.991},{"p":22,"i":9,"v":20.008},
{"p":22,"i":10,"v":20.02},{"p":22,"i":11,"v":19.989},{"p":22,"i":12,"v":20.016},{"p":22,"i":13,"v":20.023},{"p":22,"i":14,"v":20.012},{"p":22,"i":15,"v":19.982},{"p":22,"i":16,"v":19.958},{"p":22,"i":17,"v":20.005},{"p":22,"i":18,"v":20.011},{"p":22,"i":19,"v":19.998},
{"p":22,"i":20,"v":20.024},{"p":22,"i":21,"v":20.016},{"p":22,"i":22,"v":19.996},{"p":22,"i":23,"v":19.994},{"p":22,"i":24,"v":20.018},{"p":22,"i":25,"v":19.992},{"p":22,"i":26,"v":20.026},{"p":22,"i":27,"v":19.997},{"p":22,"i":28,"v":19.985},{"p":22,"i":29,"v":20.018},
{"p":22,"i":30,"v":20.027},{"p":22,"i":31,"v":20.006},{"p":22,"i":32,"v":19.984},{"p":22,"i":33,"v":20.011},{"p":22,"i":34,"v":20.029},{"p":22,"i":35,"v":20.022},{"p":22,"i":36,"v":19.99},{"p":22,"i":37,"v":19.972},{"p":22,"i":38,"v":19.982},{"p":22,"i":39,"v":20.004},
{"p":22,"i":40,"v":19.975},{"p":22,"i":41,"v":19.98},{"p":22,"i":42,"v":19.971},{"p":22,"i":43,"v":19.983},{"p":22,"i":44,"v":19.983},{"p":22,"i":45,"v":20.013},{"p":22,"i":46,"v":19.977},{"p":22,"i":47,"v":19.966},{"p":22,"i":48,"v":20.009},{"p":22,"i":49,"v":19.988},
{"p":22,"i":50,"v":20.006},{"p":22,"i":51,"v":19.982},{"p":22,"i":52,"v":20.013},{"p":22,"i":53,"v":20.014},{"p":22,"i":54,"v":19.995},{"p":22,"i":55,"v":20.017},{"p":22,"i":56,"v":19.962},{"p":22,"i":57,"v":20.008},{"p":22,"i":58,"v":19.988},{"p":22,"i":59,"v":20.007},
{"p":22,"i":60,"v":20.015},{"p":22,"i":61,"v":20.011},{"p":22,"i":62,"v":20.001},{"p":22,"i":63,"v":20.018},{"p":22,"i":64,"v":20.016},{"p":22,"i":65,"v":20.027},{"p":22,"i":66,"v":19.991},{"p":22,"i":67,"v":20.015},{"p":22,"i":68,"v":20.024},{"p":22,"i":69,"v":19.974},
{"p":22,"i":70,"v":20.019},{"p":22,"i":71,"v":20.012},{"p":22,"i":72,"v":19.969},{"p":22,"i":73,"v":20.016},{"p":22,"i":74,"v":20.01},{"p":22,"i":75,"v":19.985},{"p":22,"i":76,"v":20.009},{"p":22,"i":77,"v":20.006},{"p":22,"i":78,"v":20.013},{"p":22,"i":79,"v":20},
{"p":22,"i":80,"v":20.011},{"p":22,"i":81,"v":20.021},{"p":22,"i":82,"v":19.985},{"p":22,"i":83,"v":20.003},{"p":22,"i":84,"v":20.008},{"p":22,"i":85,"v":19.978},{"p":22,"i":86,"v":20.014},{"p":22,"i":87,"v":19.993},{"p":22,"i":88,"v":20.014},{"p":22,"i":89,"v":19.981},
{"p":22,"i":90,"v":20.009},{"p":22,"i":91,"v":19.988},{"p":22,"i":92,"v":20.005},{"p":22,"i":93,"v":20.017},{"p":22,"i":94,"v":19.996},{"p":22,"i":95,"v":20.009},{"p":22,"i":96,"v":19.984},{"p":22,"i":97,"v":20.007},{"p":22,"i":98,"v":20.015},{"p":22,"i":99,"v":19.998},
{"p":23,"i":0,"v":4.33},{"p":23,"i":1,"v":4.28},{"p":23,"i":2,"v":4.06},{"p":23,"i":3,"v":3.91},{"p":23,"i":4,"v":4.13},{"p":23,"i":5,"v":3.86},{"p":23,"i":6,"v":4.05},{"p":23,"i":7,"v":3.8},{"p":23,"i":8,"v":3.87},{"p":23,"i":9,"v":4.08},
{"p":23,"i":10,"v":3.8},{"p":23,"i":11,"v":3.82},{"p":23,"i":12,"v":4.04},{"p":23,"i":13,"v":3.89},{"p":23,"i":14,"v":3.82},{"p":23,"i":15,"v":3.76},{"p":23,"i":16,"v":4.23},{"p":23,"i":17,"v":3.85},{"p":23,"i":18,"v":4.03},{"p":23,"i":19,"v":3.88},
{"p":23,"i":20,"v":3.6},{"p":23,"i":21,"v":3.93},{"p":23,"i":22,"v":4.1},{"p":23,"i":23,"v":3.88},{"p":23,"i":24,"v":4.05},{"p":23,"i":25,"v":4.18},{"p":23,"i":26,"v":4.25},{"p":23,"i":27,"v":4.11},{"p":23,"i":28,"v":4.16},{"p":23,"i":29,"v":3.95},
{"p":23,"i":30,"v":4.2},{"p":23,"i":31,"v":4.13},{"p":23,"i":32,"v":3.9},{"p":23,"i":33,"v":4.27},{"p":23,"i":34,"v":4.07},{"p":23,"i":35,"v":3.78},{"p":23,"i":36,"v":4.09},{"p":23,"i":37,"v":3.69},{"p":23,"i":38,"v":3.59},{"p":23,"i":39,"v":4.04},
{"p":23,"i":40,"v":3.66},{"p":23,"i":41,"v":4.05},{"p":23,"i":42,"v":3.83},{"p":23,"i":43,"v":4.23},{"p":23,"i":44,"v":4.14},{"p":23,"i":45,"v":4.19},{"p":23,"i":46,"v":3.92},{"p":23,"i":47,"v":4.31},{"p":23,"i":48,"v":4.11},{"p":23,"i":49,"v":4.38},
{"p":23,"i":50,"v":4.22},{"p":23,"i":51,"v":3.87},{"p":23,"i":52,"v":4.26},{"p":23,"i":53,"v":3.94},{"p":23,"i":54,"v":4.15},{"p":23,"i":55,"v":4.31},{"p":23,"i":56,"v":4.1},{"p":23,"i":57,"v":3.86},{"p":23,"i":58,"v":4.1},{"p":23,"i":59,"v":3.65},
{"p":23,"i":60,"v":3.96},{"p":23,"i":61,"v":4.28},{"p":23,"i":62,"v":3.8},{"p":23,"i":63,"v":4.29},{"p":23,"i":64,"v":4.06},{"p":23,"i":65,"v":4.08},{"p":23,"i":66,"v":3.74},{"p":23,"i":67,"v":4.17},{"p":23,"i":68,"v":3.91},{"p":23,"i":69,"v":3.65},
{"p":23,"i":70,"v":4.12},{"p":23,"i":71,"v":3.89},{"p":23,"i":72,"v":4.08},{"p":23,"i":73,"v":4.22},{"p":23,"i":74,"v":3.82},{"p":23,"i":75,"v":4.07},{"p":23,"i":76,"v":3.97},{"p":23,"i":77,"v":3.93},{"p":23,"i":78,"v":3.64},{"p":23,"i":79,"v":4.14},
{"p":23,"i":80,"v":4.46},{"p":23,"i":81,"v":3.88},{"p":23,"i":82,"v":4.05},{"p":23,"i":83,"v":4.18},{"p":23,"i":84,"v":3.77},{"p":23,"i":85,"v":4.09},{"p":23,"i":86,"v":4.25},{"p":23,"i":87,"v":4.03},{"p":23,"i":88,"v":3.84},{"p":23,"i":89,"v":4.16},
{"p":23,"i":90,"v":3.9},{"p":23,"i":91,"v":4.07},{"p":23,"i":92,"v":3.72},{"p":23,"i":93,"v":4.2},{"p":23,"i":94,"v":4.02},{"p":23,"i":95,"v":3.94},{"p":23,"i":96,"v":4.11},{"p":23,"i":97,"v":3.79},{"p":23,"i":98,"v":4.09},{"p":23,"i":99,"v":4.13},
{"p":24,"i":0,"v":21.6},{"p":24,"i":1,"v":17.8},{"p":24,"i":2,"v":20.8},{"p":24,"i":3,"v":21},{"p":24,"i":4,"v":20.5},{"p":24,"i":5,"v":15.4},{"p":24,"i":6,"v":20.9},{"p":24,"i":7,"v":20.6},{"p":24,"i":8,"v":15.7},{"p":24,"i":9,"v":20.1},
{"p":24,"i":10,"v":19.3},{"p":24,"i":11,"v":18.4},{"p":24,"i":12,"v":21.9},{"p":24,"i":13,"v":16.8},{"p":24,"i":14,"v":22},{"p":24,"i":15,"v":16.9},{"p":24,"i":16,"v":22.7},{"p":24,"i":17,"v":19.8},{"p":24,"i":18,"v":22.8},{"p":24,"i":19,"v":20.4},
{"p":24,"i":20,"v":17.5},{"p":24,"i":21,"v":23.1},{"p":24,"i":22,"v":24.1},{"p":24,"i":23,"v":19.4},{"p":24,"i":24,"v":18.2},{"p":24,"i":25,"v":17.5},{"p":24,"i":26,"v":20.4},{"p":24,"i":27,"v":17.3},{"p":24,"i":28,"v":21.5},{"p":24,"i":29,"v":18.8},
{"p":24,"i":30,"v":22.5},{"p":24,"i":31,"v":19.6},{"p":24,"i":32,"v":16.7},{"p":24,"i":33,"v":21.9},{"p":24,"i":34,"v":22.7},{"p":24,"i":35,"v":18.6},{"p":24,"i":36,"v":20.5},{"p":24,"i":37,"v":17.9},{"p":24,"i":38,"v":19},{"p":24,"i":39,"v":22.1},
{"p":24,"i":40,"v":16.6},{"p":24,"i":41,"v":20.2},{"p":24,"i":42,"v":18.7},{"p":24,"i":43,"v":21.3},{"p":24,"i":44,"v":19.2},{"p":24,"i":45,"v":24.9},{"p":24,"i":46,"v":18.3},{"p":24,"i":47,"v":23.9},{"p":24,"i":48,"v":23.6},{"p":24,"i":49,"v":19},
{"p":24,"i":50,"v":20.4},{"p":24,"i":51,"v":18.5},{"p":24,"i":52,"v":21.8},{"p":24,"i":53,"v":22.9},{"p":24,"i":54,"v":19.5},{"p":24,"i":55,"v":18.1},{"p":24,"i":56,"v":20.9},{"p":24,"i":57,"v":24},{"p":24,"i":58,"v":19.3},{"p":24,"i":59,"v":21.4},
{"p":24,"i":60,"v":18.9},{"p":24,"i":61,"v":23.6},{"p":24,"i":62,"v":20.7},{"p":24,"i":63,"v":17.3},{"p":24,"i":64,"v":22.4},{"p":24,"i":65,"v":20},{"p":24,"i":66,"v":17.4},{"p":24,"i":67,"v":21.1},{"p":24,"i":68,"v":20.2},{"p":24,"i":69,"v":23},
{"p":24,"i":70,"v":17.9},{"p":24,"i":71,"v":22.6},{"p":24,"i":72,"v":19.6},{"p":24,"i":73,"v":15.9},{"p":24,"i":74,"v":20.5},{"p":24,"i":75,"v":18.2},{"p":24,"i":76,"v":17.4},{"p":24,"i":77,"v":22.3},{"p":24,"i":78,"v":19.9},{"p":24,"i":79,"v":16.5},
{"p":24,"i":80,"v":20.8},{"p":24,"i":81,"v":14.9},{"p":24,"i":82,"v":19.1},{"p":24,"i":83,"v":23.6},{"p":24,"i":84,"v":17.7},{"p":24,"i":85,"v":20.3},{"p":24,"i":86,"v":15.8},{"p":24,"i":87,"v":21.2},{"p":24,"i":88,"v":18.6},{"p":24,"i":89,"v":22.5},
{"p":24,"i":90,"v":14.6},{"p":24,"i":91,"v":19.7},{"p":24,"i":92,"v":21.1},{"p":24,"i":93,"v":18},{"p":24,"i":94,"v":23},{"p":24,"i":95,"v":20.1},{"p":24,"i":96,"v":18.9},{"p":24,"i":97,"v":21.5},{"p":24,"i":98,"v":17.8},{"p":24,"i":99,"v":20.6},
{"p":1,"t":4,"up":4.006,"dn":3.994,"lo":2.86,"hi":10.05,"a":"C₁ᶜᵒʳʳ(ε₄;ε₀)","b":"0%","m":"μ̂ = 8.5717","s":"σ̂ = 0.0060"},
{"p":2,"t":20,"up":20.152,"dn":19.848,"lo":14.05,"hi":50.9,"a":"C₂ᶜᵒʳʳ(ε₄;ε₀)","b":"0%","m":"μ̂ = 42.8473","s":"σ̂ = 0.1520"},
{"p":3,"t":4,"up":9.0884,"dn":-1.0884,"lo":-11.3,"hi":29.6,"a":"C₃ᶜᵒʳʳ(ε₄;ε₀)","b":"51%","m":"μ̂ = 8.4863","s":"σ̂ = 5.0884"},
{"p":4,"t":20,"up":205.057,"dn":-165.057,"lo":-670,"hi":792,"a":"C₄ᶜᵒʳʳ(ε₄;ε₀)","b":"69%","m":"μ̂ = 39.1075","s":"σ̂ = 185.0570"},
{"p":5,"t":4,"up":4.0026,"dn":3.9974,"lo":3.8,"hi":5.05,"a":"C₁ᶜᵒʳʳ(ε₄;ε₁)","b":"0%","m":"μ̂ = 4.7620","s":"σ̂ = 0.0026"},
{"p":6,"t":20,"up":20.0295,"dn":19.9705,"lo":18.98,"hi":25.38,"a":"C₂ᶜᵒʳʳ(ε₄;ε₁)","b":"0%","m":"μ̂ = 23.8080","s":"σ̂ = 0.0295"},
{"p":7,"t":4,"up":4.4104,"dn":3.5896,"lo":2.7,"hi":6.48,"a":"C₃ᶜᵒʳʳ(ε₄;ε₁)","b":"20%","m":"μ̂ = 4.7612","s":"σ̂ = 0.4104"},
{"p":8,"t":20,"up":26.7143,"dn":13.2857,"lo":-4.2,"hi":52.1,"a":"C₄ᶜᵒʳʳ(ε₄;ε₁)","b":"61%","m":"μ̂ = 23.7910","s":"σ̂ = 6.7143"},
{"p":9,"t":4,"up":4.0024,"dn":3.9976,"lo":3.885,"hi":4.598,"a":"C₁ᶜᵒʳʳ(ε₄;ε₂)","b":"0%","m":"μ̂ = 4.4445","s":"σ̂ = 0.0024"},
{"p":10,"t":20,"up":20.0243,"dn":19.9757,"lo":19.4,"hi":23.09,"a":"C₂ᶜᵒʳʳ(ε₄;ε₂)","b":"0%","m":"μ̂ = 22.2210","s":"σ̂ = 0.0243"},
{"p":11,"t":4,"up":4.3252,"dn":3.6748,"lo":3.1,"hi":5.8,"a":"C₃ᶜᵒʳʳ(ε₄;ε₂)","b":"35%","m":"μ̂ = 4.4400","s":"σ̂ = 0.3252"},
{"p":12,"t":20,"up":24.8142,"dn":15.1858,"lo":3.8,"hi":41.6,"a":"C₄ᶜᵒʳʳ(ε₄;ε₂)","b":"66%","m":"μ̂ = 22.1251","s":"σ̂ = 4.8142"},
{"p":13,"t":4,"up":4.0021,"dn":3.9979,"lo":3.959,"hi":4.2097,"a":"C₁ᶜᵒʳʳ(ε₄;ε₃)","b":"0%","m":"μ̂ = 4.1668","s":"σ̂ = 0.0021"},
{"p":14,"t":20,"up":20.0201,"dn":19.9799,"lo":19.73,"hi":21.24,"a":"C₂ᶜᵒʳʳ(ε₄;ε₃)","b":"0%","m":"μ̂ = 20.8325","s":"σ̂ = 0.0201"},
{"p":15,"t":4,"up":4.2351,"dn":3.7649,"lo":3.31,"hi":5.09,"a":"C₃ᶜᵒʳʳ(ε₄;ε₃)","b":"58%","m":"μ̂ = 4.1657","s":"σ̂ = 0.2351"},
{"p":16,"t":20,"up":23.1792,"dn":16.8208,"lo":8.4,"hi":34.3,"a":"C₄ᶜᵒʳʳ(ε₄;ε₃)","b":"67%","m":"μ̂ = 20.7868","s":"σ̂ = 3.1792"},
{"p":17,"t":4,"up":4.002,"dn":3.998,"lo":3.9923,"hi":4.0083,"a":"C₁ᶜᵒʳʳ(ε₄;ε₄)","b":"69%","m":"μ̂ = 4.0001","s":"σ̂ = 0.0020"},
{"p":18,"t":20,"up":20.0177,"dn":19.9823,"lo":19.932,"hi":20.073,"a":"C₂ᶜᵒʳʳ(ε₄;ε₄)","b":"68%","m":"μ̂ = 19.9995","s":"σ̂ = 0.0177"},
{"p":19,"t":4,"up":4.199,"dn":3.801,"lo":3.24,"hi":4.84,"a":"C₃ᶜᵒʳʳ(ε₄;ε₄)","b":"68%","m":"μ̂ = 3.9999","s":"σ̂ = 0.1990"},
{"p":20,"t":20,"up":22.5098,"dn":17.4902,"lo":10,"hi":30,"a":"C₄ᶜᵒʳʳ(ε₄;ε₄)","b":"71%","m":"μ̂ = 19.9518","s":"σ̂ = 2.5098"},
{"p":21,"t":4,"up":4.0019,"dn":3.9981,"lo":3.9921,"hi":4.0084,"a":"C₁ᶜᵒʳʳ(ε₄;ε₅)","b":"70%","m":"μ̂ = 4.0001","s":"σ̂ = 0.0019"},
{"p":22,"t":20,"up":20.0168,"dn":19.9832,"lo":19.93,"hi":20.0745,"a":"C₂ᶜᵒʳʳ(ε₄;ε₅)","b":"68%","m":"μ̂ = 19.9997","s":"σ̂ = 0.0168"},
{"p":23,"t":4,"up":4.1841,"dn":3.8159,"lo":3.26,"hi":4.82,"a":"C₃ᶜᵒʳʳ(ε₄;ε₅)","b":"67%","m":"μ̂ = 4.0000","s":"σ̂ = 0.1841"},
{"p":24,"t":20,"up":22.209,"dn":17.791,"lo":10,"hi":30,"a":"C₄ᶜᵒʳʳ(ε₄;ε₅)","b":"69%","m":"μ̂ = 19.9030","s":"σ̂ = 2.2090"}
]},
"transform":[{"lookup":"p","from":{"data":{"values":[
{"p":1,"r":1,"c":1},{"p":2,"r":1,"c":2},{"p":3,"r":1,"c":3},{"p":4,"r":1,"c":4},
{"p":5,"r":2,"c":1},{"p":6,"r":2,"c":2},{"p":7,"r":2,"c":3},{"p":8,"r":2,"c":4},
{"p":9,"r":3,"c":1},{"p":10,"r":3,"c":2},{"p":11,"r":3,"c":3},{"p":12,"r":3,"c":4},
{"p":13,"r":4,"c":1},{"p":14,"r":4,"c":2},{"p":15,"r":4,"c":3},{"p":16,"r":4,"c":4},
{"p":17,"r":5,"c":1},{"p":18,"r":5,"c":2},{"p":19,"r":5,"c":3},{"p":20,"r":5,"c":4},
{"p":21,"r":6,"c":1},{"p":22,"r":6,"c":2},{"p":23,"r":6,"c":3},{"p":24,"r":6,"c":4}
]},"key":"p","fields":["r","c"]}}],
"facet":{"row":{"field":"r","type":"ordinal","header":null},"column":{"field":"c","type":"ordinal","header":null}},
"spacing":{"row":0,"column":30},
"bounds":"flush",
"resolve":{"scale":{"y":"independent"}},
"title":{"text":"index","orient":"bottom","anchor":"middle","fontSize":13,"fontWeight":"normal","font":"Liberation Sans","offset":1},
"spec":{"width":131,"height":99,"layer":[
{"transform":[{"filter":{"field":"t","valid":true}}],"mark":{"type":"rule","color":"#ff0000","strokeWidth":2.5},"encoding":{"y":{"field":"t","type":"quantitative","scale":{"nice":false,"zero":false}}}},
{"transform":[{"filter":{"field":"up","valid":true}}],"mark":{"type":"rule","color":"#9a9a9a","strokeWidth":1.5,"strokeDash":[22,6]},"encoding":{"y":{"field":"up","type":"quantitative","scale":{"nice":false,"zero":false}}}},
{"transform":[{"filter":{"field":"dn","valid":true}}],"mark":{"type":"rule","color":"#9a9a9a","strokeWidth":1.5,"strokeDash":[22,6]},"encoding":{"y":{"field":"dn","type":"quantitative","scale":{"nice":false,"zero":false}}}},
{"transform":[{"filter":{"field":"v","valid":true}}],"mark":{"type":"circle","color":"black","size":9,"opacity":1},"encoding":{"x":{"field":"i","type":"quantitative","scale":{"domain":[-2,102],"nice":false,"zero":false},"axis":{"values":[0,20,40,60,80,100],"tickCount":12,"labelOverlap":false,"format":"d"}},"y":{"field":"v","type":"quantitative","scale":{"nice":false,"zero":false}}}},
{"transform":[{"filter":{"field":"t","valid":true}}],"mark":{"type":"text","font":"Liberation Serif","fontStyle":"italic","fontSize":11,"align":"left","baseline":"alphabetic","dy":13},"encoding":{"x":{"datum":11.5,"type":"quantitative"},"y":{"field":"hi","type":"quantitative","scale":{"nice":false,"zero":false}},"text":{"field":"a"}}},
{"transform":[{"filter":{"field":"t","valid":true}}],"mark":{"type":"text","font":"Liberation Serif","fontSize":11,"align":"right","baseline":"alphabetic","dy":13},"encoding":{"x":{"datum":88,"type":"quantitative"},"y":{"field":"hi","type":"quantitative"},"text":{"field":"b"}}},
{"transform":[{"filter":{"field":"t","valid":true}}],"mark":{"type":"text","font":"Liberation Serif","fontSize":11,"align":"left","baseline":"alphabetic","dy":-5},"encoding":{"x":{"datum":2.5,"type":"quantitative"},"y":{"field":"lo","type":"quantitative"},"text":{"field":"m"}}},
{"transform":[{"filter":{"field":"t","valid":true}}],"mark":{"type":"text","font":"Liberation Serif","fontSize":11,"align":"right","baseline":"alphabetic","dy":-5},"encoding":{"x":{"datum":99,"type":"quantitative"},"y":{"field":"lo","type":"quantitative"},"text":{"field":"s"}}}
]}}
]}
